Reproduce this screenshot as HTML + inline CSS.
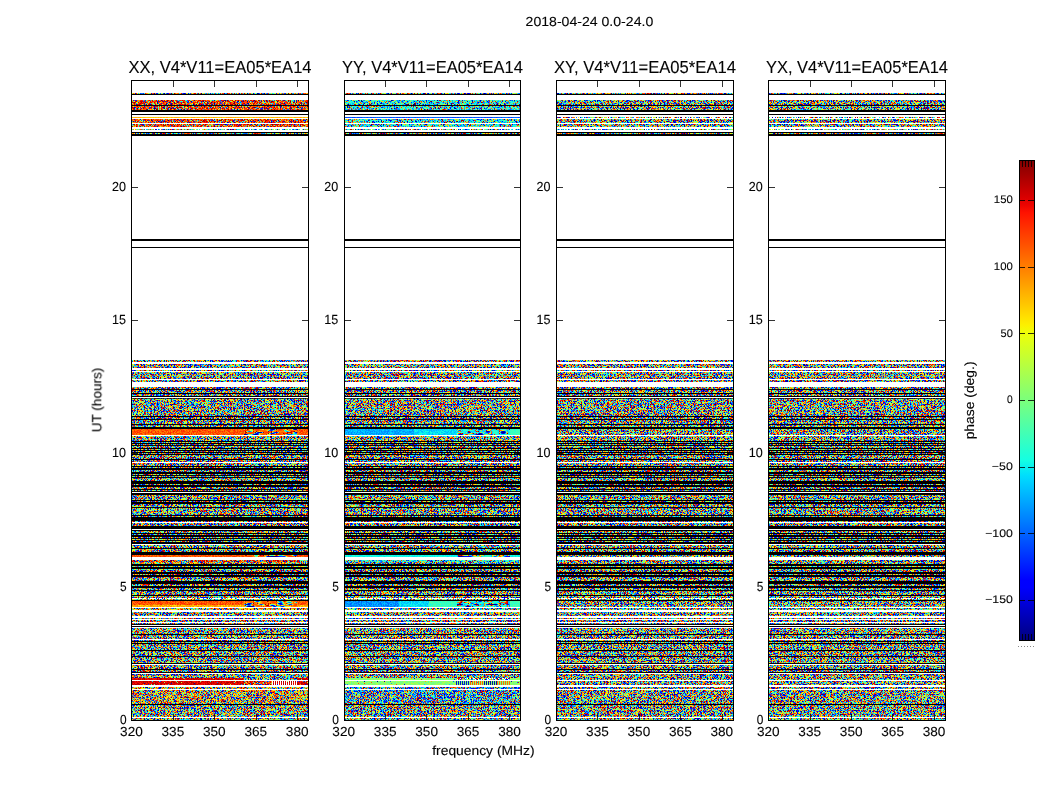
<!DOCTYPE html>
<html><head><meta charset="utf-8"><title>phase</title><style>html,body{margin:0;padding:0;background:#fff}svg{display:block}</style></head><body>
<svg width="1050" height="800" viewBox="0 0 1050 800" shape-rendering="crispEdges" font-family="Liberation Sans, sans-serif" fill="#000">
<defs><filter id="fu" x="0" y="0" width="100%" height="100%" color-interpolation-filters="sRGB">
<feTurbulence type="fractalNoise" baseFrequency="1.7" numOctaves="1" seed="3"/>
<feColorMatrix type="matrix" values="1 0 0 0 0  1 0 0 0 0  1 0 0 0 0  0 0 0 0 1"/>
<feComponentTransfer><feFuncR type="table" tableValues="0 0 0 0 0 0 0 0 0 0 0 0 0 0 0 0 0 0 0 0 0 0 0 0 0 0 0 0 0 0 0 0 0 0 0 0 0 0 0 0 0 0 0 0 0 0 0 0 0 0 0 0 0 0 0 0 0 0 0 0 0 0 0 0 0 0 0 0 0 0 0 0 0 0 0 0 0 0 0 0 0 0 0 0 0 0 0 0 0 0 0 0 0 0 0 0 0 0 0 0 0 0 0 0 0 0 0 0 0 0 0 0 0 0 0 0 0 0 0.0454 0.0916 0.138 0.184 0.229 0.275 0.321 0.365 0.41 0.445 0.504 0.573 0.617 0.66 0.705 0.751 0.796 0.841 0.887 0.933 0.98 1 1 1 1 1 1 1 1 1 1 1 1 1 1 1 1 1 1 1 1 1 1 1 1 0.979 0.952 0.925 0.899 0.874 0.851 0.826 0.804 0.783 0.76 0.739 0.718 0.699 0.681 0.664 0.647 0.631 0.617 0.604 0.592 0.581 0.57 0.56 0.551 0.544 0.537 0.531 0.526 0.523 0.519 0.517 0.514 0.512 0.51 0.509 0.507 0.506 0.505 0.504 0.504 0.503 0.502 0.502 0.502 0.501 0.501 0.501 0.501 0.5 0.5 0.5 0.5 0.5 0.5 0.5 0.5 0.5 0.5 0.5 0.5 0.5 0.5 0.5 0.5 0.5 0.5 0.5 0.5 0.5 0.5 0.5 0.5 0.5 0.5 0.5 0.5 0.5 0.5 0.5 0.5 0.5 0.5 0.5 0.5 0.5 0.5 0.5 0.5 0.5 0.5 0.5 0.5 0.5"/><feFuncG type="table" tableValues="0 0 0 0 0 0 0 0 0 0 0 0 0 0 0 0 0 0 0 0 0 0 0 0 0 0 0 0 0 0 0 0 0 0 0 0 0 0 0 0 0 0 0 0 0 0 0 0 0 0 0 0 0 0 0 0 0 0 0 0 0 0 0 0 0 0 0 0 0 0 0 0 0 0 0 0 0 0 0 0 0 0 0 0 0 0 0 0 0 0 0 0 0 0 0 0 0.0235 0.0541 0.0848 0.117 0.15 0.184 0.218 0.253 0.288 0.323 0.361 0.401 0.44 0.481 0.527 0.575 0.625 0.674 0.727 0.784 0.841 0.899 0.956 1 1 1 1 1 1 1 1 1 1 1 1 1 1 1 1 1 1 1 0.949 0.895 0.842 0.79 0.738 0.69 0.646 0.603 0.563 0.527 0.491 0.455 0.422 0.39 0.36 0.329 0.299 0.271 0.242 0.214 0.186 0.158 0.131 0.105 0.0802 0.057 0.0349 0.0131 0 0 0 0 0 0 0 0 0 0 0 0 0 0 0 0 0 0 0 0 0 0 0 0 0 0 0 0 0 0 0 0 0 0 0 0 0 0 0 0 0 0 0 0 0 0 0 0 0 0 0 0 0 0 0 0 0 0 0 0 0 0 0 0 0 0 0 0 0 0 0 0 0 0 0 0 0 0 0 0 0 0 0 0 0 0 0 0 0 0"/><feFuncB type="table" tableValues="0.5 0.5 0.5 0.5 0.5 0.5 0.5 0.5 0.5 0.5 0.5 0.5 0.5 0.5 0.5 0.5 0.5 0.5 0.5 0.5 0.5 0.5 0.5 0.5 0.5 0.5 0.5 0.5 0.5 0.5 0.5 0.5 0.5 0.5 0.5 0.5 0.5 0.5 0.5 0.5 0.5 0.5 0.5 0.5 0.5 0.5 0.5 0.501 0.501 0.501 0.501 0.502 0.502 0.503 0.503 0.504 0.505 0.506 0.507 0.508 0.51 0.512 0.514 0.516 0.519 0.523 0.527 0.532 0.538 0.545 0.553 0.561 0.571 0.582 0.593 0.605 0.619 0.634 0.649 0.666 0.683 0.703 0.723 0.744 0.766 0.789 0.812 0.838 0.864 0.89 0.917 0.944 0.971 0.999 1 1 1 1 1 1 1 1 1 1 1 1 1 1 1 1 1 1 1 1 1 1 1 0.969 0.922 0.876 0.83 0.784 0.739 0.692 0.647 0.602 0.557 0.523 0.464 0.395 0.351 0.308 0.262 0.217 0.172 0.127 0.0807 0.0348 0 0 0 0 0 0 0 0 0 0 0 0 0 0 0 0 0 0 0 0 0 0 0 0 0 0 0 0 0 0 0 0 0 0 0 0 0 0 0 0 0 0 0 0 0 0 0 0 0 0 0 0 0 0 0 0 0 0 0 0 0 0 0 0 0 0 0 0 0 0 0 0 0 0 0 0 0 0 0 0 0 0 0 0 0 0 0 0 0 0 0 0 0 0 0 0 0 0 0 0 0 0 0 0 0 0 0 0 0 0 0 0 0 0 0 0 0 0"/></feComponentTransfer>
</filter>
<filter id="fS" x="0" y="0" width="100%" height="100%" color-interpolation-filters="sRGB">
<feTurbulence type="fractalNoise" baseFrequency="1.7" numOctaves="1" seed="11"/>
<feColorMatrix type="matrix" values="1 0 0 0 0  1 0 0 0 0  1 0 0 0 0  0 0 0 0 1"/>
<feComponentTransfer><feFuncR type="discrete" tableValues="1 1 1 1 1 1 1 1 1 1 1 1 1 1 1 1 1 1 1 1 1 1 1 1 1 1 1 1 1 1 1 1 1 1 1 1 1 1 1 1 1 1 1 1 1 1 1 1 1 1 1 1 1 1 1 1 1 1 1 1 1 1 1 1 1 1 1 1 1 1 1 1 1 1 1 1 1 1 1 1 1 1 1 1 1 1 1 1 1 1 1 1 1 1 1 1 1 1 1 1 1 1 1 1 1 1 1 0 0 0 0 0 0 0 0 0 0 0 0 0 0 0 0 0 0 0 0 0 0.0545 0.143 0.199 0.255 0.313 0.372 0.429 0.487 0.546 0.605 0.665 0.725 0.784 0.842 0.9 0.954 1 1 1 1 1 1 1 1 1 1 1 1 1 1 1 1 1 1 1 1 1 1 1 0.98 0.95 0.918 0.89 0.862 0.833 0.806 0.78 0.755 0.732 0.71 0.689 0.668 0.65 0.634 0.618 0.603 0.59 0.577 0.565 0.556 0.548 0.54 0.534 0.529 0.525 0.521 0.518 0.515 0.513 0.511 0.509 0.508 0.507 0.506 0.504 0.504 0.503 0.502 0.502 0.502 0.501 0.501 0.501 0.5 0.5 0.5 0.5 0.5 0.5 0.5 0.5 0.5 0.5 0.5 0.5 0.5 0.5 0.5 0.5 0.5 0.5 0.5 0.5 0.5 0.5 0.5 0.5 0.5 0.5 0.5 0.5 0.5 0.5 0.5 0.5 0.5 0.5 0.5 0.5 0.5 0.5 0.5 0.5 0.5 0.5 0.5 0.5 0.5"/><feFuncG type="discrete" tableValues="1 1 1 1 1 1 1 1 1 1 1 1 1 1 1 1 1 1 1 1 1 1 1 1 1 1 1 1 1 1 1 1 1 1 1 1 1 1 1 1 1 1 1 1 1 1 1 1 1 1 1 1 1 1 1 1 1 1 1 1 1 1 1 1 1 1 1 1 1 1 1 1 1 1 1 1 1 1 1 1 1 1 1 1 1 1 1 1 1 1 1 1 1 1 1 1 1 1 1 1 1 1 1 1 1 1 1 0 0 0 0 0 0 0 0 0.0175 0.0913 0.165 0.239 0.312 0.386 0.459 0.531 0.605 0.677 0.747 0.819 0.874 0.968 1 1 1 1 1 1 1 1 1 1 1 1 1 1 0.979 0.922 0.867 0.816 0.769 0.723 0.678 0.635 0.594 0.555 0.516 0.478 0.441 0.404 0.368 0.333 0.297 0.263 0.229 0.197 0.167 0.139 0.111 0.0837 0.0577 0.033 0.00761 0 0 0 0 0 0 0 0 0 0 0 0 0 0 0 0 0 0 0 0 0 0 0 0 0 0 0 0 0 0 0 0 0 0 0 0 0 0 0 0 0 0 0 0 0 0 0 0 0 0 0 0 0 0 0 0 0 0 0 0 0 0 0 0 0 0 0 0 0 0 0 0 0 0 0 0 0 0 0 0 0 0 0 0 0 0"/><feFuncB type="discrete" tableValues="1 1 1 1 1 1 1 1 1 1 1 1 1 1 1 1 1 1 1 1 1 1 1 1 1 1 1 1 1 1 1 1 1 1 1 1 1 1 1 1 1 1 1 1 1 1 1 1 1 1 1 1 1 1 1 1 1 1 1 1 1 1 1 1 1 1 1 1 1 1 1 1 1 1 1 1 1 1 1 1 1 1 1 1 1 1 1 1 1 1 1 1 1 1 1 1 1 1 1 1 1 1 1 1 1 1 1 0.53 0.588 0.647 0.714 0.785 0.856 0.928 1 1 1 1 1 1 1 1 1 1 1 1 1 0.988 0.913 0.824 0.769 0.713 0.655 0.596 0.539 0.481 0.422 0.363 0.303 0.242 0.184 0.125 0.0674 0.014 0 0 0 0 0 0 0 0 0 0 0 0 0 0 0 0 0 0 0 0 0 0 0 0 0 0 0 0 0 0 0 0 0 0 0 0 0 0 0 0 0 0 0 0 0 0 0 0 0 0 0 0 0 0 0 0 0 0 0 0 0 0 0 0 0 0 0 0 0 0 0 0 0 0 0 0 0 0 0 0 0 0 0 0 0 0 0 0 0 0 0 0 0 0 0 0 0 0 0 0 0 0 0 0 0 0 0 0 0 0 0 0"/></feComponentTransfer>
</filter>
<filter id="fS2" x="0" y="0" width="100%" height="100%" color-interpolation-filters="sRGB">
<feTurbulence type="fractalNoise" baseFrequency="1.7" numOctaves="1" seed="17"/>
<feColorMatrix type="matrix" values="1 0 0 0 0  1 0 0 0 0  1 0 0 0 0  0 0 0 0 1"/>
<feComponentTransfer><feFuncR type="discrete" tableValues="1 1 1 1 1 1 1 1 1 1 1 1 1 1 1 1 1 1 1 1 1 1 1 1 1 1 1 1 1 1 1 1 1 1 1 1 1 1 1 1 1 1 1 1 1 1 1 1 1 1 1 1 1 1 1 1 1 1 1 1 1 1 1 1 1 1 1 1 1 1 1 1 1 1 1 1 1 1 1 1 1 1 1 1 1 1 1 1 1 1 1 1 1 1 1 1 1 1 1 1 1 1 1 1 1 1 1 1 1 1 1 1 1 1 1 1 1 1 1 1 1 1 1 1 1 1 1 1 1 1 1 1 1 1 1 1 1 1 1 1 1 1 1 1 1 1 1 1 1 0 0 0 0 0 0 0 0 0 0.0403 0.15 0.257 0.36 0.459 0.552 0.639 0.725 0.809 0.889 0.966 1 1 1 1 1 1 1 1 1 1 1 1 0.974 0.917 0.866 0.819 0.773 0.732 0.698 0.669 0.642 0.62 0.603 0.588 0.575 0.564 0.555 0.546 0.54 0.533 0.528 0.524 0.52 0.516 0.513 0.511 0.509 0.507 0.506 0.504 0.503 0.503 0.502 0.501 0.501 0.5 0.5 0.5 0.5 0.5 0.5 0.5 0.5 0.5 0.5 0.5 0.5 0.5 0.5 0.5 0.5 0.5 0.5 0.5 0.5 0.5 0.5 0.5 0.5 0.5 0.5 0.5 0.5 0.5 0.5 0.5 0.5 0.5 0.5 0.5 0.5 0.5 0.5 0.5 0.5 0.5 0.5"/><feFuncG type="discrete" tableValues="1 1 1 1 1 1 1 1 1 1 1 1 1 1 1 1 1 1 1 1 1 1 1 1 1 1 1 1 1 1 1 1 1 1 1 1 1 1 1 1 1 1 1 1 1 1 1 1 1 1 1 1 1 1 1 1 1 1 1 1 1 1 1 1 1 1 1 1 1 1 1 1 1 1 1 1 1 1 1 1 1 1 1 1 1 1 1 1 1 1 1 1 1 1 1 1 1 1 1 1 1 1 1 1 1 1 1 1 1 1 1 1 1 1 1 1 1 1 1 1 1 1 1 1 1 1 1 1 1 1 1 1 1 1 1 1 1 1 1 1 1 1 1 1 1 1 1 1 1 0 0 0 0.0982 0.249 0.395 0.534 0.677 0.814 0.95 1 1 1 1 1 1 1 1 1 0.965 0.875 0.794 0.713 0.628 0.551 0.475 0.403 0.336 0.272 0.212 0.153 0.101 0.0527 0.00676 0 0 0 0 0 0 0 0 0 0 0 0 0 0 0 0 0 0 0 0 0 0 0 0 0 0 0 0 0 0 0 0 0 0 0 0 0 0 0 0 0 0 0 0 0 0 0 0 0 0 0 0 0 0 0 0 0 0 0 0 0 0 0 0 0 0 0 0 0 0 0 0 0"/><feFuncB type="discrete" tableValues="1 1 1 1 1 1 1 1 1 1 1 1 1 1 1 1 1 1 1 1 1 1 1 1 1 1 1 1 1 1 1 1 1 1 1 1 1 1 1 1 1 1 1 1 1 1 1 1 1 1 1 1 1 1 1 1 1 1 1 1 1 1 1 1 1 1 1 1 1 1 1 1 1 1 1 1 1 1 1 1 1 1 1 1 1 1 1 1 1 1 1 1 1 1 1 1 1 1 1 1 1 1 1 1 1 1 1 1 1 1 1 1 1 1 1 1 1 1 1 1 1 1 1 1 1 1 1 1 1 1 1 1 1 1 1 1 1 1 1 1 1 1 1 1 1 1 1 1 1 0.647 0.834 1 1 1 1 1 1 1 0.927 0.818 0.711 0.607 0.508 0.416 0.329 0.243 0.159 0.0786 0.00209 0 0 0 0 0 0 0 0 0 0 0 0 0 0 0 0 0 0 0 0 0 0 0 0 0 0 0 0 0 0 0 0 0 0 0 0 0 0 0 0 0 0 0 0 0 0 0 0 0 0 0 0 0 0 0 0 0 0 0 0 0 0 0 0 0 0 0 0 0 0 0 0 0 0 0 0 0 0 0 0 0 0 0 0 0 0 0"/></feComponentTransfer>
</filter>
<filter id="f1T" x="0" y="0" width="100%" height="100%" color-interpolation-filters="sRGB">
<feTurbulence type="fractalNoise" baseFrequency="1.7" numOctaves="1" seed="3"/>
<feColorMatrix type="matrix" values="1 0 0 0 0  1 0 0 0 0  1 0 0 0 0  0 0 0 0 1"/>
<feComponentTransfer><feFuncR type="table" tableValues="0 0 0 0 0 0 0 0 0 0 0 0 0 0 0 0 0 0 0 0 0 0 0 0 0 0 0 0 0 0 0 0 0 0 0 0 0 0 0 0 0 0 0 0 0 0 0 0 0 0 0 0 0 0 0 0 0 0 0 0 0 0 0 0 0 0 0 0 0 0 0 0 0 0 0 0 0 0 0 0 0 0 0 0 0 0 0 0 0 0 0 0 0 0 0 0 0 0 0 0 0.0358 0.0961 0.158 0.221 0.282 0.346 0.414 0.485 0.556 0.629 0.711 0.798 0.886 0.975 1 1 1 1 1 1 1 0.935 0.793 0.648 0.505 1 1 1 1 1 1 1 1 1 1 1 1 1 1 1 1 1 1 1 1 1 1 1 1 1 1 0.991 0.977 0.962 0.947 0.933 0.919 0.905 0.891 0.878 0.865 0.852 0.839 0.828 0.817 0.806 0.796 0.786 0.777 0.767 0.758 0.749 0.74 0.732 0.724 0.716 0.709 0.702 0.695 0.689 0.683 0.678 0.673 0.669 0.664 0.66 0.657 0.654 0.651 0.649 0.647 0.645 0.644 0.643 0.642 0.641 0.64 0.64 0.639 0.639 0.638 0.638 0.638 0.638 0.637 0.637 0.637 0.637 0.637 0.637 0.637 0.637 0.636 0.636 0.636 0.636 0.636 0.636 0.636 0.636 0.636 0.636 0.636 0.636 0.636 0.636 0.636 0.636 0.636 0.636 0.636 0.636 0.636 0.636 0.636 0.636 0.636 0.636 0.636 0.636 0.636 0.636 0.636 0.636 0.636 0.636 0.636 0.636 0.636 0.636 0.636 0.636 0.636 0.636 0.636 0.636"/><feFuncG type="table" tableValues="0 0 0 0 0 0 0 0 0 0 0 0 0 0 0 0 0 0 0 0 0 0 0 0 0 0 0 0 0 0 0 0 0 0 0 0 0 0 0 0 0 0 0 0 0 0 0 0 0 0 0 0 0 0 0 0 0 0 0 0 0 0 0 0 0 0 0 0 0 0 0 0 0 0 0 0 0 0 0 0 0 0 0 0 0.0211 0.0653 0.111 0.161 0.212 0.263 0.316 0.368 0.421 0.476 0.534 0.596 0.663 0.731 0.8 0.871 0.944 1 1 1 1 1 1 1 1 1 1 1 1 0.955 0.846 0.729 0.611 0.492 0.374 0.256 0.138 0.0211 0 0 0 0.573 0.552 0.536 0.509 0.478 0.458 0.438 0.417 0.396 0.375 0.354 0.333 0.312 0.291 0.269 0.248 0.227 0.206 0.187 0.169 0.152 0.136 0.122 0.107 0.0932 0.0798 0.0671 0.055 0.0427 0.0308 0.0195 0.00784 0 0 0 0 0 0 0 0 0 0 0 0 0 0 0 0 0 0 0 0 0 0 0 0 0 0 0 0 0 0 0 0 0 0 0 0 0 0 0 0 0 0 0 0 0 0 0 0 0 0 0 0 0 0 0 0 0 0 0 0 0 0 0 0 0 0 0 0 0 0 0 0 0 0 0 0 0 0 0 0 0 0 0 0 0 0 0 0 0 0 0 0 0 0 0 0 0 0 0"/><feFuncB type="table" tableValues="0.5 0.5 0.5 0.5 0.5 0.5 0.5 0.5 0.5 0.5 0.5 0.5 0.5 0.5 0.5 0.5 0.5 0.5 0.5 0.5 0.5 0.5 0.5 0.5 0.5 0.5 0.5 0.5 0.5 0.5 0.5 0.5 0.5 0.5 0.5 0.5 0.5 0.5 0.5 0.5 0.5 0.5 0.5 0.5 0.5 0.501 0.501 0.501 0.502 0.502 0.503 0.504 0.505 0.506 0.507 0.508 0.51 0.512 0.515 0.518 0.522 0.526 0.531 0.536 0.543 0.55 0.56 0.571 0.585 0.6 0.617 0.637 0.658 0.682 0.707 0.733 0.764 0.797 0.832 0.869 0.907 0.95 0.996 1 1 1 1 1 1 1 1 1 1 1 1 1 1 1 1 0.991 0.932 0.872 0.809 0.747 0.685 0.622 0.554 0.483 0.412 0.339 0.257 0.169 0.0815 0 0 0 0 0 0 0 0 0 0 0 0 0 0 0 0 0 0 0 0 0 0 0 0 0 0 0 0 0 0 0 0 0 0 0 0 0 0 0 0 0 0 0 0 0 0 0 0 0 0 0 0 0 0 0 0 0 0 0 0 0 0 0 0 0 0 0 0 0 0 0 0 0 0 0 0 0 0 0 0 0 0 0 0 0 0 0 0 0 0 0 0 0 0 0 0 0 0 0 0 0 0 0 0 0 0 0 0 0 0 0 0 0 0 0 0 0 0 0 0 0 0 0 0 0 0 0 0 0 0 0 0 0 0 0 0 0 0 0 0 0 0 0"/></feComponentTransfer>
</filter>
<filter id="f1t" x="0" y="0" width="100%" height="100%" color-interpolation-filters="sRGB">
<feTurbulence type="fractalNoise" baseFrequency="1.7" numOctaves="1" seed="3"/>
<feColorMatrix type="matrix" values="1 0 0 0 0  1 0 0 0 0  1 0 0 0 0  0 0 0 0 1"/>
<feComponentTransfer><feFuncR type="table" tableValues="0 0 0 0 0 0 0 0 0 0 0 0 0 0 0 0 0 0 0 0 0 0 0 0 0 0 0 0 0 0 0 0 0 0 0 0 0 0 0 0 0 0 0 0 0 0 0 0 0 0 0 0 0 0 0 0 0 0 0 0 0 0 0 0 0 0 0 0 0 0 0 0 0 0 0 0 0 0 0 0 0 0 0 0 0 0 0 0 0 0 0 0 0 0 0 0 0 0 0 0 0 0 0 0 0 0 0 0 0 0 0 0.0274 0.0801 0.133 0.19 0.251 0.313 0.375 0.437 0.498 0.56 0.621 0.682 0.744 0.804 0.863 0.923 0.97 1 1 1 1 1 1 1 1 1 1 1 0.995 0.909 0.823 0.738 0.66 0.587 0.516 0.837 0.875 0.913 0.95 0.985 1 1 1 1 1 1 1 1 1 1 1 1 1 1 1 1 1 1 1 1 1 1 1 1 1 1 1 1 1 1 1 1 1 1 1 1 1 0.999 0.992 0.986 0.982 0.978 0.974 0.972 0.969 0.967 0.965 0.963 0.962 0.961 0.96 0.959 0.958 0.957 0.957 0.956 0.956 0.956 0.955 0.955 0.955 0.955 0.955 0.955 0.955 0.955 0.955 0.955 0.955 0.955 0.955 0.955 0.955 0.955 0.955 0.955 0.955 0.955 0.955 0.955 0.955 0.955 0.955 0.955 0.955 0.955 0.955 0.955 0.955 0.955 0.955 0.955 0.955 0.955 0.955 0.955 0.955 0.955 0.955 0.955 0.955 0.955 0.955 0.955 0.955"/><feFuncG type="table" tableValues="0 0 0 0 0 0 0 0 0 0 0 0 0 0 0 0 0 0 0 0 0 0 0 0 0 0 0 0 0 0 0 0 0 0 0 0 0 0 0 0 0 0 0 0 0 0 0 0 0 0 0 0 0 0 0 0 0 0 0 0 0 0 0 0 0 0 0 0 0 0 0 0 0 0 0 0 0 0 0 0 0 0 0 0 0 0 0 0 0 0 0 0.021 0.0528 0.0858 0.12 0.158 0.198 0.239 0.28 0.322 0.367 0.411 0.458 0.505 0.55 0.597 0.648 0.701 0.754 0.808 0.869 0.934 0.999 1 1 1 1 1 1 1 1 1 1 1 1 1 1 0.961 0.871 0.765 0.698 0.632 0.562 0.492 0.424 0.354 0.284 0.214 0.142 0.0697 0 0 0 0 0 0 1 1 1 0.983 0.943 0.905 0.869 0.832 0.796 0.762 0.727 0.694 0.66 0.627 0.595 0.563 0.533 0.505 0.479 0.453 0.427 0.403 0.38 0.356 0.335 0.313 0.291 0.27 0.25 0.231 0.214 0.197 0.181 0.166 0.152 0.139 0.127 0.116 0.106 0.0957 0.0869 0.0797 0.0734 0.0677 0.0629 0.0591 0.056 0.0533 0.0509 0.0488 0.047 0.0455 0.0442 0.0431 0.0421 0.0412 0.0405 0.0399 0.0394 0.0389 0.0386 0.0383 0.038 0.0377 0.0376 0.0374 0.0373 0.0372 0.0371 0.0371 0.037 0.037 0.037 0.037 0.037 0.037 0.037 0.037 0.037 0.037 0.037 0.037 0.037 0.037 0.037 0.037 0.037 0.037 0.037 0.037 0.037 0.037 0.037 0.037 0.037 0.037 0.037 0.037 0.037 0.037 0.037 0.037 0.037 0.037 0.037 0.037 0.037 0.037 0.037 0.037"/><feFuncB type="table" tableValues="0.5 0.5 0.5 0.5 0.5 0.5 0.5 0.5 0.5 0.5 0.5 0.5 0.5 0.5 0.5 0.5 0.5 0.5 0.5 0.5 0.5 0.5 0.5 0.5 0.5 0.5 0.5 0.5 0.5 0.5 0.5 0.5 0.5 0.5 0.5 0.5 0.5 0.5 0.5 0.5 0.5 0.5 0.5 0.5 0.5 0.5 0.5 0.501 0.501 0.501 0.502 0.502 0.503 0.503 0.504 0.505 0.506 0.507 0.509 0.511 0.513 0.516 0.518 0.522 0.526 0.53 0.536 0.543 0.551 0.56 0.57 0.582 0.595 0.609 0.624 0.64 0.658 0.678 0.699 0.722 0.744 0.77 0.798 0.825 0.855 0.885 0.916 0.951 0.986 1 1 1 1 1 1 1 1 1 1 1 1 1 1 1 1 1 1 1 1 1 0.993 0.94 0.888 0.834 0.778 0.716 0.655 0.592 0.531 0.469 0.408 0.347 0.286 0.224 0.163 0.104 0.0444 0 0 0 0 0 0 0 0 0 0 0 0 0 0 0 0 0 0 0 0.13 0.0923 0.055 0.0176 0 0 0 0 0 0 0 0 0 0 0 0 0 0 0 0 0 0 0 0 0 0 0 0 0 0 0 0 0 0 0 0 0 0 0 0 0 0 0 0 0 0 0 0 0 0 0 0 0 0 0 0 0 0 0 0 0 0 0 0 0 0 0 0 0 0 0 0 0 0 0 0 0 0 0 0 0 0 0 0 0 0 0 0 0 0 0 0 0 0 0 0 0 0 0 0 0 0 0 0 0 0 0 0 0 0"/></feComponentTransfer>
</filter>
<filter id="f1O" x="0" y="0" width="100%" height="100%" color-interpolation-filters="sRGB">
<feTurbulence type="fractalNoise" baseFrequency="1.7" numOctaves="1" seed="3"/>
<feColorMatrix type="matrix" values="1 0 0 0 0  1 0 0 0 0  1 0 0 0 0  0 0 0 0 1"/>
<feComponentTransfer><feFuncR type="table" tableValues="1 1 1 1 1 1 1 1 1 1 1 1 1 1 1 1 1 1 1 1 1 1 1 1 1 1 1 1 1 1 1 1 1 1 1 1 1 1 1 1 1 1 1 1 1 1 1 1 1 1 1 1 1 1 1 1 1 1 1 1 1 1 1 1 1 1 1 1 1 1 1 1 1 1 1 1 1 1 1 1 1 1 1 1 1 1 1 1 1 1 1 1 1 1 1 1 1 1 1 1 1 1 1 1 1 1 1 1 1 1 1 1 1 1 1 1 1 1 1 1 1 1 1 1 1 1 1 1 1 1 1 1 1 1 1 1 1 1 1 1 1 1 1 1 1 1 1 1 1 1 1 1 1 1 1 1 1 1 1 1 1 1 1 1 1 1 1 1 1 1 1 1 1 1 1 1 1 1 1 1 1 1 1 1 1 1 1 1 1 1 1 1 1 1 1 1 1 1 1 1 1 1 1 1 1 1 1 1 1 1 1 1 1 1 1 1 1 1 1 1 1 1 1 1 1 1 1 1 1 1 1 1 1 1 1 1 1 1 1 1 1 1 1 1 1 1 1 1 1 1 1 1 1 1 1 1"/><feFuncG type="table" tableValues="0.556 0.556 0.556 0.556 0.556 0.556 0.556 0.556 0.556 0.556 0.556 0.556 0.556 0.556 0.556 0.556 0.556 0.556 0.556 0.556 0.556 0.556 0.556 0.556 0.556 0.556 0.556 0.556 0.556 0.556 0.556 0.556 0.556 0.556 0.556 0.556 0.556 0.556 0.556 0.556 0.556 0.556 0.556 0.556 0.556 0.556 0.556 0.556 0.555 0.555 0.555 0.555 0.555 0.555 0.555 0.555 0.555 0.555 0.555 0.555 0.555 0.554 0.554 0.554 0.554 0.553 0.553 0.552 0.552 0.551 0.55 0.55 0.549 0.548 0.546 0.545 0.544 0.542 0.541 0.539 0.538 0.536 0.534 0.532 0.529 0.527 0.525 0.522 0.52 0.517 0.515 0.512 0.509 0.507 0.504 0.501 0.497 0.494 0.491 0.487 0.483 0.48 0.476 0.472 0.468 0.464 0.46 0.455 0.451 0.447 0.441 0.436 0.431 0.425 0.419 0.413 0.407 0.4 0.394 0.387 0.381 0.375 0.368 0.362 0.356 0.35 0.343 0.339 0.331 0.321 0.315 0.309 0.303 0.297 0.29 0.284 0.278 0.271 0.265 0.258 0.252 0.246 0.24 0.234 0.229 0.223 0.219 0.214 0.21 0.206 0.202 0.198 0.194 0.191 0.187 0.184 0.18 0.177 0.173 0.17 0.167 0.164 0.161 0.158 0.155 0.153 0.15 0.148 0.145 0.143 0.141 0.139 0.136 0.134 0.132 0.131 0.129 0.127 0.126 0.124 0.123 0.121 0.12 0.119 0.118 0.117 0.116 0.115 0.115 0.114 0.114 0.113 0.113 0.113 0.112 0.112 0.112 0.112 0.112 0.112 0.112 0.112 0.111 0.111 0.111 0.111 0.111 0.111 0.111 0.111 0.111 0.111 0.111 0.111 0.111 0.111 0.111 0.111 0.111 0.111 0.111 0.111 0.111 0.111 0.111 0.111 0.111 0.111 0.111 0.111 0.111 0.111 0.111 0.111 0.111 0.111 0.111 0.111 0.111 0.111 0.111 0.111 0.111 0.111 0.111 0.111 0.111 0.111 0.111 0.111 0.111 0.111 0.111 0.111 0.111 0.111"/><feFuncB type="table" tableValues="0 0 0 0 0 0 0 0 0 0 0 0 0 0 0 0 0 0 0 0 0 0 0 0 0 0 0 0 0 0 0 0 0 0 0 0 0 0 0 0 0 0 0 0 0 0 0 0 0 0 0 0 0 0 0 0 0 0 0 0 0 0 0 0 0 0 0 0 0 0 0 0 0 0 0 0 0 0 0 0 0 0 0 0 0 0 0 0 0 0 0 0 0 0 0 0 0 0 0 0 0 0 0 0 0 0 0 0 0 0 0 0 0 0 0 0 0 0 0 0 0 0 0 0 0 0 0 0 0 0 0 0 0 0 0 0 0 0 0 0 0 0 0 0 0 0 0 0 0 0 0 0 0 0 0 0 0 0 0 0 0 0 0 0 0 0 0 0 0 0 0 0 0 0 0 0 0 0 0 0 0 0 0 0 0 0 0 0 0 0 0 0 0 0 0 0 0 0 0 0 0 0 0 0 0 0 0 0 0 0 0 0 0 0 0 0 0 0 0 0 0 0 0 0 0 0 0 0 0 0 0 0 0 0 0 0 0 0 0 0 0 0 0 0 0 0 0 0 0 0 0 0 0 0 0 0"/></feComponentTransfer>
</filter>
<filter id="f1O2" x="0" y="0" width="100%" height="100%" color-interpolation-filters="sRGB">
<feTurbulence type="fractalNoise" baseFrequency="1.7" numOctaves="1" seed="3"/>
<feColorMatrix type="matrix" values="1 0 0 0 0  1 0 0 0 0  1 0 0 0 0  0 0 0 0 1"/>
<feComponentTransfer><feFuncR type="table" tableValues="1 1 1 1 1 1 1 1 1 1 1 1 1 1 1 1 1 1 1 1 1 1 1 1 1 1 1 1 1 1 1 1 1 1 1 1 1 1 1 1 1 1 1 1 1 1 1 1 1 1 1 1 1 1 1 1 1 1 1 1 1 1 1 1 1 1 1 1 1 1 1 1 1 1 1 1 1 1 1 1 1 1 1 1 1 1 1 1 1 1 1 1 1 1 1 1 1 1 1 1 1 1 1 1 1 1 1 1 1 1 1 1 1 1 1 1 1 1 1 1 1 1 1 1 1 1 1 1 1 1 1 1 1 1 1 1 1 1 1 1 1 1 1 1 1 1 1 1 1 1 1 1 1 1 1 1 1 1 1 1 1 1 1 1 1 1 1 1 1 1 1 1 1 1 1 1 1 1 1 1 1 1 1 1 1 1 1 1 1 1 1 1 1 1 1 1 1 1 1 1 1 1 1 1 1 1 1 1 1 1 1 1 1 1 1 1 1 1 1 1 1 1 1 1 1 1 1 1 1 1 1 1 1 1 1 1 1 1 1 1 1 1 1 1 1 1 1 1 1 1 1 1 1 1 1 1"/><feFuncG type="table" tableValues="0.926 0.926 0.926 0.926 0.926 0.926 0.926 0.926 0.926 0.926 0.926 0.926 0.926 0.926 0.926 0.926 0.926 0.926 0.926 0.926 0.926 0.926 0.926 0.926 0.926 0.926 0.926 0.926 0.926 0.926 0.926 0.926 0.926 0.926 0.926 0.926 0.926 0.926 0.926 0.926 0.926 0.926 0.926 0.926 0.926 0.926 0.926 0.926 0.926 0.926 0.926 0.926 0.926 0.926 0.926 0.926 0.925 0.925 0.925 0.925 0.925 0.925 0.925 0.924 0.924 0.924 0.923 0.923 0.922 0.922 0.921 0.92 0.919 0.918 0.917 0.916 0.914 0.913 0.911 0.91 0.908 0.906 0.904 0.902 0.9 0.898 0.895 0.893 0.89 0.888 0.885 0.883 0.88 0.877 0.874 0.871 0.868 0.864 0.861 0.857 0.854 0.85 0.846 0.842 0.838 0.834 0.83 0.826 0.821 0.817 0.812 0.806 0.801 0.795 0.79 0.783 0.777 0.77 0.764 0.758 0.751 0.745 0.739 0.732 0.726 0.72 0.714 0.709 0.701 0.691 0.685 0.679 0.673 0.667 0.661 0.654 0.648 0.642 0.635 0.629 0.623 0.616 0.61 0.604 0.599 0.594 0.589 0.585 0.58 0.576 0.572 0.568 0.565 0.561 0.557 0.554 0.551 0.547 0.544 0.54 0.537 0.534 0.531 0.528 0.526 0.523 0.521 0.518 0.516 0.513 0.511 0.509 0.507 0.505 0.503 0.501 0.499 0.497 0.496 0.494 0.493 0.492 0.49 0.489 0.488 0.487 0.486 0.486 0.485 0.485 0.484 0.484 0.483 0.483 0.483 0.483 0.482 0.482 0.482 0.482 0.482 0.482 0.482 0.482 0.482 0.482 0.482 0.482 0.482 0.482 0.482 0.482 0.482 0.481 0.481 0.481 0.481 0.481 0.481 0.481 0.481 0.481 0.481 0.481 0.481 0.481 0.481 0.481 0.481 0.481 0.481 0.481 0.481 0.481 0.481 0.481 0.481 0.481 0.481 0.481 0.481 0.481 0.481 0.481 0.481 0.481 0.481 0.481 0.481 0.481 0.481 0.481 0.481 0.481 0.481 0.481"/><feFuncB type="table" tableValues="0 0 0 0 0 0 0 0 0 0 0 0 0 0 0 0 0 0 0 0 0 0 0 0 0 0 0 0 0 0 0 0 0 0 0 0 0 0 0 0 0 0 0 0 0 0 0 0 0 0 0 0 0 0 0 0 0 0 0 0 0 0 0 0 0 0 0 0 0 0 0 0 0 0 0 0 0 0 0 0 0 0 0 0 0 0 0 0 0 0 0 0 0 0 0 0 0 0 0 0 0 0 0 0 0 0 0 0 0 0 0 0 0 0 0 0 0 0 0 0 0 0 0 0 0 0 0 0 0 0 0 0 0 0 0 0 0 0 0 0 0 0 0 0 0 0 0 0 0 0 0 0 0 0 0 0 0 0 0 0 0 0 0 0 0 0 0 0 0 0 0 0 0 0 0 0 0 0 0 0 0 0 0 0 0 0 0 0 0 0 0 0 0 0 0 0 0 0 0 0 0 0 0 0 0 0 0 0 0 0 0 0 0 0 0 0 0 0 0 0 0 0 0 0 0 0 0 0 0 0 0 0 0 0 0 0 0 0 0 0 0 0 0 0 0 0 0 0 0 0 0 0 0 0 0 0"/></feComponentTransfer>
</filter>
<filter id="f1D" x="0" y="0" width="100%" height="100%" color-interpolation-filters="sRGB">
<feTurbulence type="fractalNoise" baseFrequency="1.7" numOctaves="1" seed="3"/>
<feColorMatrix type="matrix" values="1 0 0 0 0  1 0 0 0 0  1 0 0 0 0  0 0 0 0 1"/>
<feComponentTransfer><feFuncR type="table" tableValues="0 0 0 0 0 0 0 0 0 0 0 0 0 0 0 0 0 0 0 0 0 0 0 0 0 0 0 0 0 0 0 0 0 0 0 0 0 0 0 0 0 0 0 0 0 0 0 0 0 0 0 0 0 0 0 0 0 0 0 0 0 0 0 0 0 0 0 0 0 0 0 0 0 0 0 0.113 0.277 0.45 0.639 0.836 1 1 1 0.982 0.604 1 1 1 1 1 1 1 1 1 1 1 1 1 1 1 1 0.997 0.993 0.99 0.986 0.982 0.978 0.974 0.969 0.965 0.96 0.955 0.949 0.944 0.938 0.932 0.926 0.919 0.913 0.907 0.901 0.894 0.888 0.882 0.876 0.87 0.864 0.859 0.851 0.842 0.836 0.83 0.824 0.818 0.812 0.806 0.8 0.793 0.787 0.781 0.775 0.768 0.762 0.757 0.751 0.746 0.742 0.737 0.733 0.729 0.725 0.721 0.718 0.714 0.711 0.707 0.704 0.701 0.697 0.694 0.691 0.688 0.685 0.682 0.68 0.677 0.675 0.672 0.67 0.668 0.666 0.663 0.661 0.659 0.657 0.655 0.654 0.652 0.65 0.649 0.648 0.646 0.645 0.644 0.643 0.642 0.641 0.641 0.64 0.639 0.639 0.639 0.638 0.638 0.638 0.638 0.637 0.637 0.637 0.637 0.637 0.637 0.637 0.637 0.637 0.637 0.637 0.636 0.636 0.636 0.636 0.636 0.636 0.636 0.636 0.636 0.636 0.636 0.636 0.636 0.636 0.636 0.636 0.636 0.636 0.636 0.636 0.636 0.636 0.636 0.636 0.636 0.636 0.636 0.636 0.636 0.636 0.636 0.636 0.636 0.636 0.636 0.636 0.636 0.636 0.636 0.636 0.636 0.636 0.636 0.636 0.636 0.636 0.636 0.636 0.636"/><feFuncG type="table" tableValues="0 0 0 0 0 0 0 0 0 0 0 0 0 0 0 0 0 0 0 0 0 0 0 0 0 0 0 0 0 0 0 0 0 0 0 0 0 0 0 0 0 0 0 0 0 0 0 0 0 0 0 0 0 0 0 0 0 0 0 0 0 0 0 0 0 0 0 0 0.0619 0.162 0.275 0.402 0.545 0.702 0.865 1 1 1 1 1 0.883 0.62 0.338 0.0593 0 0.11 0.108 0.106 0.104 0.102 0.0999 0.0977 0.0956 0.0934 0.0911 0.0887 0.086 0.0833 0.0805 0.0777 0.0748 0.0718 0.0687 0.0656 0.0626 0.0594 0.0561 0.0525 0.049 0.0454 0.0414 0.037 0.0327 0.0283 0.0236 0.0186 0.0135 0.00836 0.00328 0 0 0 0 0 0 0 0 0 0 0 0 0 0 0 0 0 0 0 0 0 0 0 0 0 0 0 0 0 0 0 0 0 0 0 0 0 0 0 0 0 0 0 0 0 0 0 0 0 0 0 0 0 0 0 0 0 0 0 0 0 0 0 0 0 0 0 0 0 0 0 0 0 0 0 0 0 0 0 0 0 0 0 0 0 0 0 0 0 0 0 0 0 0 0 0 0 0 0 0 0 0 0 0 0 0 0 0 0 0 0 0 0 0 0 0 0 0 0 0 0 0 0 0 0 0 0 0 0 0 0 0 0 0 0 0 0"/><feFuncB type="table" tableValues="0.5 0.5 0.5 0.5 0.5 0.5 0.5 0.5 0.5 0.5 0.5 0.5 0.5 0.5 0.5 0.5 0.5 0.5 0.5 0.5 0.5 0.5 0.5 0.5 0.5 0.5 0.5 0.5 0.5 0.5 0.5 0.5 0.5 0.5 0.5 0.5 0.5 0.5 0.5 0.5 0.5 0.501 0.501 0.502 0.504 0.505 0.506 0.509 0.512 0.517 0.521 0.528 0.535 0.543 0.552 0.563 0.576 0.592 0.611 0.634 0.662 0.695 0.73 0.77 0.82 0.878 0.947 1 1 1 1 1 1 1 0.996 0.855 0.691 0.517 0.329 0.131 0 0 0 0 0 0 0 0 0 0 0 0 0 0 0 0 0 0 0 0 0 0 0 0 0 0 0 0 0 0 0 0 0 0 0 0 0 0 0 0 0 0 0 0 0 0 0 0 0 0 0 0 0 0 0 0 0 0 0 0 0 0 0 0 0 0 0 0 0 0 0 0 0 0 0 0 0 0 0 0 0 0 0 0 0 0 0 0 0 0 0 0 0 0 0 0 0 0 0 0 0 0 0 0 0 0 0 0 0 0 0 0 0 0 0 0 0 0 0 0 0 0 0 0 0 0 0 0 0 0 0 0 0 0 0 0 0 0 0 0 0 0 0 0 0 0 0 0 0 0 0 0 0 0 0 0 0 0 0 0 0 0 0 0 0 0 0 0 0 0 0 0 0 0 0 0"/></feComponentTransfer>
</filter>
<filter id="f1L" x="0" y="0" width="100%" height="100%" color-interpolation-filters="sRGB">
<feTurbulence type="fractalNoise" baseFrequency="1.7" numOctaves="1" seed="3"/>
<feColorMatrix type="matrix" values="1 0 0 0 0  1 0 0 0 0  1 0 0 0 0  0 0 0 0 1"/>
<feComponentTransfer><feFuncR type="table" tableValues="1 1 1 1 1 1 1 1 1 1 1 1 1 1 1 1 1 1 1 1 1 1 1 1 1 1 1 1 1 1 1 1 1 1 1 1 1 1 1 1 1 1 1 1 1 1 1 1 1 1 1 1 1 1 1 1 1 1 1 1 1 1 1 1 1 1 1 1 1 1 1 1 1 1 1 1 1 1 1 1 1 1 1 1 1 1 1 1 1 1 1 1 1 1 1 1 1 1 1 1 1 1 1 1 1 1 1 1 1 1 1 1 1 1 1 1 1 1 1 1 1 1 1 1 1 1 1 1 1 1 1 1 1 1 1 1 1 1 1 1 1 1 1 1 1 1 1 1 1 1 1 1 1 1 1 1 1 1 1 1 1 1 1 1 1 1 1 1 1 1 1 1 1 1 1 1 1 1 1 1 1 1 1 1 1 1 1 1 1 1 1 1 1 1 1 1 1 1 1 1 1 1 1 1 1 1 1 1 1 1 1 1 1 1 1 1 1 1 1 1 1 1 1 1 1 1 1 1 1 1 1 1 1 1 1 1 1 1 1 1 1 1 1 1 1 1 1 1 1 1 1 1 1 1 1 1"/><feFuncG type="table" tableValues="0.852 0.852 0.852 0.852 0.852 0.852 0.852 0.852 0.852 0.852 0.852 0.852 0.852 0.852 0.852 0.852 0.852 0.852 0.852 0.852 0.852 0.852 0.852 0.852 0.852 0.852 0.852 0.852 0.852 0.852 0.852 0.852 0.852 0.852 0.852 0.852 0.852 0.852 0.852 0.852 0.852 0.852 0.852 0.852 0.852 0.852 0.852 0.852 0.852 0.852 0.852 0.852 0.852 0.852 0.852 0.852 0.852 0.852 0.852 0.851 0.851 0.851 0.851 0.851 0.851 0.851 0.851 0.85 0.85 0.85 0.849 0.849 0.848 0.848 0.847 0.847 0.846 0.845 0.845 0.844 0.843 0.842 0.841 0.84 0.839 0.838 0.837 0.835 0.834 0.833 0.831 0.83 0.829 0.827 0.826 0.824 0.823 0.821 0.819 0.818 0.816 0.814 0.812 0.81 0.808 0.806 0.804 0.802 0.8 0.797 0.795 0.792 0.789 0.787 0.784 0.781 0.777 0.774 0.771 0.768 0.765 0.761 0.758 0.755 0.752 0.749 0.746 0.743 0.739 0.735 0.732 0.729 0.725 0.722 0.719 0.716 0.713 0.71 0.707 0.703 0.7 0.697 0.694 0.691 0.688 0.686 0.683 0.681 0.679 0.677 0.675 0.673 0.671 0.669 0.668 0.666 0.664 0.662 0.661 0.659 0.658 0.656 0.654 0.653 0.652 0.65 0.649 0.648 0.647 0.646 0.645 0.643 0.642 0.641 0.64 0.639 0.638 0.638 0.637 0.636 0.635 0.635 0.634 0.634 0.633 0.633 0.632 0.632 0.631 0.631 0.631 0.631 0.631 0.63 0.63 0.63 0.63 0.63 0.63 0.63 0.63 0.63 0.63 0.63 0.63 0.63 0.63 0.63 0.63 0.63 0.63 0.63 0.63 0.63 0.63 0.63 0.63 0.63 0.63 0.63 0.63 0.63 0.63 0.63 0.63 0.63 0.63 0.63 0.63 0.63 0.63 0.63 0.63 0.63 0.63 0.63 0.63 0.63 0.63 0.63 0.63 0.63 0.63 0.63 0.63 0.63 0.63 0.63 0.63 0.63 0.63 0.63 0.63 0.63 0.63 0.63"/><feFuncB type="table" tableValues="0 0 0 0 0 0 0 0 0 0 0 0 0 0 0 0 0 0 0 0 0 0 0 0 0 0 0 0 0 0 0 0 0 0 0 0 0 0 0 0 0 0 0 0 0 0 0 0 0 0 0 0 0 0 0 0 0 0 0 0 0 0 0 0 0 0 0 0 0 0 0 0 0 0 0 0 0 0 0 0 0 0 0 0 0 0 0 0 0 0 0 0 0 0 0 0 0 0 0 0 0 0 0 0 0 0 0 0 0 0 0 0 0 0 0 0 0 0 0 0 0 0 0 0 0 0 0 0 0 0 0 0 0 0 0 0 0 0 0 0 0 0 0 0 0 0 0 0 0 0 0 0 0 0 0 0 0 0 0 0 0 0 0 0 0 0 0 0 0 0 0 0 0 0 0 0 0 0 0 0 0 0 0 0 0 0 0 0 0 0 0 0 0 0 0 0 0 0 0 0 0 0 0 0 0 0 0 0 0 0 0 0 0 0 0 0 0 0 0 0 0 0 0 0 0 0 0 0 0 0 0 0 0 0 0 0 0 0 0 0 0 0 0 0 0 0 0 0 0 0 0 0 0 0 0 0"/></feComponentTransfer>
</filter>
<filter id="f2T" x="0" y="0" width="100%" height="100%" color-interpolation-filters="sRGB">
<feTurbulence type="fractalNoise" baseFrequency="1.7" numOctaves="1" seed="3"/>
<feColorMatrix type="matrix" values="1 0 0 0 0  1 0 0 0 0  1 0 0 0 0  0 0 0 0 1"/>
<feComponentTransfer><feFuncR type="table" tableValues="0 0 0 0 0 0 0 0 0 0 0 0 0 0 0 0 0 0 0 0 0 0 0 0 0 0 0 0 0 0 0 0 0 0 0 0 0 0 0 0 0 0 0 0 0 0 0 0 0 0 0 0 0 0 0 0 0 0 0 0 0 0 0 0 0 0 0 0 0 0 0 0 0 0 0 0 0 0 0 0 0 0 0 0 0 0 0 0 0 0 0 0 0 0 0 0 0 0 0 0 0 0 0.0297 0.0862 0.141 0.199 0.26 0.324 0.388 0.453 0.527 0.606 0.685 0.764 0.849 0.941 1 1 1 1 1 1 1 1 0.959 0.834 0.707 0.609 0 0 0 0 0 0 0 0 0 0 0 0 0 0 0 0.00922 0.0271 0.0444 0.0602 0.0748 0.0891 0.103 0.117 0.13 0.142 0.154 0.166 0.177 0.189 0.2 0.211 0.222 0.233 0.244 0.254 0.263 0.272 0.281 0.289 0.297 0.305 0.313 0.32 0.327 0.335 0.341 0.348 0.354 0.36 0.366 0.371 0.376 0.381 0.385 0.389 0.393 0.396 0.4 0.403 0.405 0.407 0.409 0.411 0.412 0.413 0.414 0.415 0.415 0.416 0.417 0.417 0.417 0.418 0.418 0.418 0.418 0.419 0.419 0.419 0.419 0.419 0.419 0.419 0.419 0.419 0.419 0.419 0.419 0.419 0.419 0.419 0.419 0.419 0.419 0.419 0.419 0.419 0.419 0.419 0.419 0.419 0.419 0.419 0.419 0.419 0.419 0.419 0.419 0.419 0.419 0.419 0.419 0.419 0.419 0.419 0.419 0.419 0.419 0.419 0.419 0.419 0.419 0.419 0.419 0.419 0.419 0.419 0.419"/><feFuncG type="table" tableValues="0 0 0 0 0 0 0 0 0 0 0 0 0 0 0 0 0 0 0 0 0 0 0 0 0 0 0 0 0 0 0 0 0 0 0 0 0 0 0 0 0 0 0 0 0 0 0 0 0 0 0 0 0 0 0 0 0 0 0 0 0 0 0 0 0 0 0 0 0 0 0 0 0 0 0 0 0 0 0 0 0 0 0 0 0 0.00874 0.0495 0.0952 0.141 0.187 0.234 0.281 0.329 0.379 0.43 0.487 0.547 0.608 0.67 0.734 0.8 0.867 0.937 1 1 1 1 1 1 1 1 1 1 1 1 0.993 0.887 0.78 0.674 0.568 0.461 0.356 0.252 0.145 0.0407 0 0 0 0.511 0.551 0.576 0.6 0.626 0.652 0.678 0.704 0.73 0.756 0.783 0.81 0.836 0.862 0.888 0.911 0.934 0.955 0.975 0.993 1 1 1 1 1 1 1 1 1 1 1 1 1 1 1 1 1 1 1 1 1 1 1 1 1 1 1 1 1 1 1 1 1 1 1 1 1 1 1 1 1 1 1 1 1 1 1 1 1 1 1 1 1 1 1 1 1 1 1 1 1 1 1 1 1 1 1 1 1 1 1 1 1 1 1 1 1 1 1 1 1 1 1 1 1 1 1 1 1 1 1 1 1 1 1 1 1 1 1 1 1 1 1 1 1 1 1 1"/><feFuncB type="table" tableValues="0.5 0.5 0.5 0.5 0.5 0.5 0.5 0.5 0.5 0.5 0.5 0.5 0.5 0.5 0.5 0.5 0.5 0.5 0.5 0.5 0.5 0.5 0.5 0.5 0.5 0.5 0.5 0.5 0.5 0.5 0.5 0.5 0.5 0.5 0.5 0.5 0.5 0.5 0.5 0.5 0.5 0.5 0.5 0.5 0.5 0.501 0.501 0.501 0.501 0.502 0.503 0.503 0.504 0.505 0.506 0.508 0.509 0.511 0.513 0.516 0.519 0.523 0.528 0.532 0.538 0.545 0.554 0.564 0.577 0.59 0.606 0.623 0.643 0.664 0.686 0.71 0.738 0.767 0.799 0.832 0.866 0.905 0.947 0.988 1 1 1 1 1 1 1 1 1 1 1 1 1 1 1 1 1 0.994 0.938 0.882 0.826 0.769 0.708 0.644 0.58 0.515 0.441 0.362 0.283 0.203 0.118 0.0263 0 0 0 0 0 0 0 0 0 0 0 0 1 1 1 1 1 1 1 1 1 1 1 1 1 0.998 0.978 0.959 0.941 0.923 0.908 0.893 0.879 0.864 0.851 0.838 0.826 0.814 0.802 0.79 0.779 0.768 0.757 0.745 0.735 0.724 0.714 0.705 0.696 0.687 0.679 0.671 0.663 0.655 0.648 0.641 0.633 0.626 0.62 0.613 0.607 0.602 0.596 0.591 0.587 0.582 0.578 0.575 0.571 0.568 0.565 0.563 0.561 0.559 0.557 0.556 0.555 0.554 0.553 0.552 0.552 0.551 0.551 0.55 0.55 0.55 0.55 0.549 0.549 0.549 0.549 0.549 0.549 0.549 0.549 0.549 0.548 0.548 0.548 0.548 0.548 0.548 0.548 0.548 0.548 0.548 0.548 0.548 0.548 0.548 0.548 0.548 0.548 0.548 0.548 0.548 0.548 0.548 0.548 0.548 0.548 0.548 0.548 0.548 0.548 0.548 0.548 0.548 0.548 0.548 0.548 0.548 0.548 0.548 0.548 0.548 0.548 0.548 0.548 0.548"/></feComponentTransfer>
</filter>
<filter id="f2t" x="0" y="0" width="100%" height="100%" color-interpolation-filters="sRGB">
<feTurbulence type="fractalNoise" baseFrequency="1.7" numOctaves="1" seed="3"/>
<feColorMatrix type="matrix" values="1 0 0 0 0  1 0 0 0 0  1 0 0 0 0  0 0 0 0 1"/>
<feComponentTransfer><feFuncR type="table" tableValues="0 0 0 0 0 0 0 0 0 0 0 0 0 0 0 0 0 0 0 0 0 0 0 0 0 0 0 0 0 0 0 0 0 0 0 0 0 0 0 0 0 0 0 0 0 0 0 0 0 0 0 0 0 0 0 0 0 0 0 0 0 0 0 0 0 0 0 0 0 0 0 0 0 0 0 0 0 0 0 0 0 0 0 0 0 0 0 0 0 0 0 0 0 0 0 0 0 0 0 0 0 0 0 0 0 0 0 0 0 0 0 0.0274 0.0801 0.133 0.19 0.251 0.313 0.375 0.437 0.498 0.56 0.621 0.682 0.744 0.804 0.863 0.923 0.97 1 1 1 1 1 1 1 1 1 1 1 0.995 0.909 0.823 0.738 0.66 0.587 0.516 0 0 0 0 0 0 0 0 0 0 0 0 0 0 0 0 0 0 0 0 0 0 0 0 0 0 0 0 0 0 0.00742 0.022 0.0359 0.0494 0.0615 0.0725 0.0831 0.0927 0.102 0.11 0.118 0.124 0.13 0.135 0.139 0.142 0.145 0.147 0.149 0.151 0.153 0.154 0.155 0.156 0.157 0.158 0.158 0.159 0.159 0.16 0.16 0.16 0.16 0.161 0.161 0.161 0.161 0.161 0.161 0.161 0.161 0.161 0.161 0.161 0.161 0.161 0.161 0.161 0.161 0.161 0.161 0.161 0.161 0.161 0.161 0.161 0.161 0.161 0.161 0.161 0.161 0.161 0.161 0.161 0.161 0.161 0.161 0.161 0.161 0.161 0.161 0.161 0.161 0.161 0.161 0.161 0.161 0.161 0.161 0.161"/><feFuncG type="table" tableValues="0 0 0 0 0 0 0 0 0 0 0 0 0 0 0 0 0 0 0 0 0 0 0 0 0 0 0 0 0 0 0 0 0 0 0 0 0 0 0 0 0 0 0 0 0 0 0 0 0 0 0 0 0 0 0 0 0 0 0 0 0 0 0 0 0 0 0 0 0 0 0 0 0 0 0 0 0 0 0 0 0 0 0 0 0 0 0 0 0 0 0 0.021 0.0528 0.0858 0.12 0.158 0.198 0.239 0.28 0.322 0.367 0.411 0.458 0.505 0.55 0.597 0.648 0.701 0.754 0.808 0.869 0.934 0.999 1 1 1 1 1 1 1 1 1 1 1 1 1 1 0.961 0.871 0.765 0.698 0.632 0.562 0.492 0.424 0.354 0.284 0.214 0.142 0.0697 0 0 0 0 0 0 0 0 0.0318 0.0781 0.122 0.162 0.202 0.242 0.28 0.317 0.355 0.391 0.427 0.463 0.498 0.532 0.564 0.594 0.623 0.651 0.678 0.705 0.73 0.755 0.779 0.802 0.826 0.848 0.87 0.89 0.909 0.927 0.945 0.961 0.976 0.99 1 1 1 1 1 1 1 1 1 1 1 1 1 1 1 1 1 1 1 1 1 1 1 1 1 1 1 1 1 1 1 1 1 1 1 1 1 1 1 1 1 1 1 1 1 1 1 1 1 1 1 1 1 1 1 1 1 1 1 1 1 1 1 1 1 1 1 1 1 1 1 1 1 1"/><feFuncB type="table" tableValues="0.5 0.5 0.5 0.5 0.5 0.5 0.5 0.5 0.5 0.5 0.5 0.5 0.5 0.5 0.5 0.5 0.5 0.5 0.5 0.5 0.5 0.5 0.5 0.5 0.5 0.5 0.5 0.5 0.5 0.5 0.5 0.5 0.5 0.5 0.5 0.5 0.5 0.5 0.5 0.5 0.5 0.5 0.5 0.5 0.5 0.5 0.5 0.501 0.501 0.501 0.502 0.502 0.503 0.503 0.504 0.505 0.506 0.507 0.509 0.511 0.513 0.516 0.518 0.522 0.526 0.53 0.536 0.543 0.551 0.56 0.57 0.582 0.595 0.609 0.624 0.64 0.658 0.678 0.699 0.722 0.744 0.77 0.798 0.825 0.855 0.885 0.916 0.951 0.986 1 1 1 1 1 1 1 1 1 1 1 1 1 1 1 1 1 1 1 1 1 0.993 0.94 0.888 0.834 0.778 0.716 0.655 0.592 0.531 0.469 0.408 0.347 0.286 0.224 0.163 0.104 0.0444 0 0 0 0 0 0 0 0 0 0 0 0 0 0 0 0 0 0 0 0.998 1 1 1 1 1 1 1 1 1 1 1 1 1 1 1 1 1 1 1 1 1 1 1 1 1 1 1 0.992 0.976 0.96 0.946 0.932 0.918 0.906 0.895 0.885 0.875 0.866 0.858 0.85 0.844 0.838 0.833 0.829 0.826 0.823 0.821 0.819 0.817 0.815 0.814 0.813 0.812 0.811 0.81 0.809 0.809 0.808 0.808 0.808 0.808 0.807 0.807 0.807 0.807 0.807 0.807 0.807 0.806 0.806 0.806 0.806 0.806 0.806 0.806 0.806 0.806 0.806 0.806 0.806 0.806 0.806 0.806 0.806 0.806 0.806 0.806 0.806 0.806 0.806 0.806 0.806 0.806 0.806 0.806 0.806 0.806 0.806 0.806 0.806 0.806 0.806 0.806 0.806 0.806 0.806 0.806 0.806 0.806"/></feComponentTransfer>
</filter>
<filter id="f2O" x="0" y="0" width="100%" height="100%" color-interpolation-filters="sRGB">
<feTurbulence type="fractalNoise" baseFrequency="1.7" numOctaves="1" seed="3"/>
<feColorMatrix type="matrix" values="1 0 0 0 0  1 0 0 0 0  1 0 0 0 0  0 0 0 0 1"/>
<feComponentTransfer><feFuncR type="table" tableValues="0 0 0 0 0 0 0 0 0 0 0 0 0 0 0 0 0 0 0 0 0 0 0 0 0 0 0 0 0 0 0 0 0 0 0 0 0 0 0 0 0 0 0 0 0 0 0 0 0 0 0 0 0 0 0 0 0 0 0 0 0 0 0 0 0 0 0 0 0 0 0 0 0 0 0 0 0 0 0 0 0 0 0 0 0 0 0 0 0 0 0 0 0 0 0 0 0 0 0 0 0 0 0 0 0 0 0 0 0 0 0 0 0 0 0 0 0 0 0 0 0 0 0 0 0 0 0 0 0 0 0 0 0 0 0 0 0 0 0 0 0 0 0 0 0 0 0 0 0 0 0 0 0 0 0 0 0 0 0 0 0 0 0 0 0 0 0 0 0 0 0 0 0 0 0 0 0 0 0 0 0 0 0 0 0 0 0 0 0 0 0 0 0 0 0 0 0 0 0 0 0 0 0 0 0 0 0 0 0 0 0 0 0 0 0 0 0 0 0 0 0 0 0 0 0 0 0 0 0 0 0 0 0 0 0 0 0 0 0 0 0 0 0 0 0 0 0 0 0 0 0 0 0 0 0 0"/><feFuncG type="table" tableValues="0.46 0.46 0.46 0.46 0.46 0.46 0.46 0.46 0.46 0.46 0.46 0.46 0.46 0.46 0.46 0.46 0.46 0.46 0.46 0.46 0.46 0.46 0.46 0.46 0.46 0.46 0.46 0.46 0.46 0.46 0.46 0.46 0.46 0.46 0.46 0.46 0.46 0.46 0.46 0.46 0.46 0.46 0.46 0.46 0.46 0.46 0.46 0.46 0.46 0.46 0.46 0.46 0.46 0.46 0.46 0.46 0.46 0.46 0.461 0.461 0.461 0.461 0.461 0.461 0.462 0.462 0.462 0.463 0.463 0.464 0.465 0.465 0.466 0.467 0.468 0.469 0.47 0.472 0.473 0.475 0.476 0.478 0.48 0.481 0.483 0.485 0.487 0.49 0.492 0.494 0.497 0.499 0.501 0.504 0.507 0.509 0.512 0.515 0.518 0.522 0.525 0.528 0.532 0.535 0.539 0.542 0.546 0.55 0.554 0.558 0.563 0.568 0.572 0.577 0.583 0.588 0.594 0.6 0.606 0.611 0.617 0.623 0.628 0.634 0.64 0.645 0.651 0.655 0.662 0.671 0.676 0.682 0.687 0.693 0.699 0.704 0.71 0.716 0.722 0.727 0.733 0.739 0.744 0.749 0.754 0.759 0.763 0.767 0.771 0.775 0.778 0.782 0.785 0.788 0.792 0.795 0.798 0.801 0.804 0.807 0.81 0.813 0.815 0.818 0.82 0.823 0.825 0.827 0.829 0.831 0.833 0.835 0.837 0.839 0.841 0.843 0.844 0.846 0.847 0.848 0.85 0.851 0.852 0.853 0.854 0.855 0.856 0.856 0.857 0.857 0.858 0.858 0.858 0.859 0.859 0.859 0.859 0.859 0.859 0.859 0.86 0.86 0.86 0.86 0.86 0.86 0.86 0.86 0.86 0.86 0.86 0.86 0.86 0.86 0.86 0.86 0.86 0.86 0.86 0.86 0.86 0.86 0.86 0.86 0.86 0.86 0.86 0.86 0.86 0.86 0.86 0.86 0.86 0.86 0.86 0.86 0.86 0.86 0.86 0.86 0.86 0.86 0.86 0.86 0.86 0.86 0.86 0.86 0.86 0.86 0.86 0.86 0.86 0.86 0.86 0.86"/><feFuncB type="table" tableValues="1 1 1 1 1 1 1 1 1 1 1 1 1 1 1 1 1 1 1 1 1 1 1 1 1 1 1 1 1 1 1 1 1 1 1 1 1 1 1 1 1 1 1 1 1 1 1 1 1 1 1 1 1 1 1 1 1 1 1 1 1 1 1 1 1 1 1 1 1 1 1 1 1 1 1 1 1 1 1 1 1 1 1 1 1 1 1 1 1 1 1 1 1 1 1 1 1 1 1 1 1 1 1 1 1 1 1 1 1 1 1 1 1 1 1 1 1 1 1 1 1 1 1 1 1 1 1 1 1 1 1 1 1 1 1 1 1 1 1 1 1 1 1 1 1 1 1 1 1 1 1 1 1 1 1 1 1 1 1 1 1 1 1 1 1 1 1 1 1 1 1 1 1 1 1 1 1 1 1 1 1 1 1 1 1 1 1 1 1 1 1 1 1 1 1 1 1 1 1 1 1 1 1 1 1 1 1 1 1 1 1 1 1 1 1 1 1 1 1 1 1 1 1 1 1 1 1 1 1 1 1 1 1 1 1 1 1 1 1 1 1 1 1 1 1 1 1 1 1 1 1 1 1 1 1 1"/></feComponentTransfer>
</filter>
<filter id="f2O2" x="0" y="0" width="100%" height="100%" color-interpolation-filters="sRGB">
<feTurbulence type="fractalNoise" baseFrequency="1.7" numOctaves="1" seed="3"/>
<feColorMatrix type="matrix" values="1 0 0 0 0  1 0 0 0 0  1 0 0 0 0  0 0 0 0 1"/>
<feComponentTransfer><feFuncR type="table" tableValues="0 0 0 0 0 0 0 0 0 0 0 0 0 0 0 0 0 0 0 0 0 0 0 0 0 0 0 0 0 0 0 0 0 0 0 0 0 0 0 0 0 0 0 0 0 0 0 0 0 0 0 0 0 0 0 0 0 0 0 0 0 0 0 0 0 0 0 0 0 0 0 0 0 0 0 0 0 0 0 0 0 0 0 0 0 0 0 0 0 0 0 0 0 0 0 0 0 0 0 0 0 0 0 0 0 0 0 0.000849 0.00374 0.00668 0.01 0.0135 0.0171 0.0207 0.0245 0.0287 0.0328 0.037 0.0412 0.0453 0.0495 0.0536 0.0577 0.0619 0.066 0.07 0.074 0.0772 0.0824 0.0887 0.0926 0.0965 0.101 0.105 0.109 0.113 0.117 0.121 0.125 0.13 0.134 0.138 0.142 0.146 0.149 0.152 0.156 0.158 0.161 0.164 0.167 0.169 0.171 0.174 0.176 0.178 0.181 0.183 0.185 0.187 0.189 0.191 0.193 0.195 0.197 0.199 0.2 0.202 0.203 0.205 0.206 0.208 0.209 0.211 0.212 0.213 0.214 0.215 0.216 0.217 0.218 0.219 0.22 0.221 0.221 0.222 0.223 0.223 0.223 0.224 0.224 0.224 0.225 0.225 0.225 0.225 0.225 0.225 0.225 0.225 0.225 0.226 0.226 0.226 0.226 0.226 0.226 0.226 0.226 0.226 0.226 0.226 0.226 0.226 0.226 0.226 0.226 0.226 0.226 0.226 0.226 0.226 0.226 0.226 0.226 0.226 0.226 0.226 0.226 0.226 0.226 0.226 0.226 0.226 0.226 0.226 0.226 0.226 0.226 0.226 0.226 0.226 0.226 0.226 0.226 0.226 0.226 0.226 0.226 0.226 0.226 0.226 0.226 0.226 0.226 0.226"/><feFuncG type="table" tableValues="0.82 0.82 0.82 0.82 0.82 0.82 0.82 0.82 0.82 0.82 0.82 0.82 0.82 0.82 0.82 0.82 0.82 0.82 0.82 0.82 0.82 0.82 0.82 0.82 0.82 0.82 0.82 0.82 0.82 0.82 0.82 0.82 0.82 0.82 0.82 0.82 0.82 0.82 0.82 0.82 0.82 0.82 0.82 0.82 0.82 0.82 0.82 0.82 0.82 0.82 0.82 0.82 0.82 0.82 0.82 0.82 0.82 0.82 0.821 0.821 0.821 0.821 0.821 0.821 0.822 0.822 0.822 0.823 0.823 0.824 0.824 0.825 0.826 0.826 0.827 0.828 0.829 0.831 0.832 0.833 0.835 0.836 0.838 0.839 0.841 0.843 0.845 0.847 0.849 0.851 0.853 0.855 0.857 0.86 0.862 0.864 0.867 0.87 0.873 0.876 0.878 0.882 0.885 0.888 0.891 0.894 0.897 0.901 0.905 0.908 0.912 0.917 0.921 0.926 0.93 0.936 0.941 0.946 0.951 0.956 0.961 0.966 0.972 0.977 0.982 0.987 0.992 0.996 1 1 1 1 1 1 1 1 1 1 1 1 1 1 1 1 1 1 1 1 1 1 1 1 1 1 1 1 1 1 1 1 1 1 1 1 1 1 1 1 1 1 1 1 1 1 1 1 1 1 1 1 1 1 1 1 1 1 1 1 1 1 1 1 1 1 1 1 1 1 1 1 1 1 1 1 1 1 1 1 1 1 1 1 1 1 1 1 1 1 1 1 1 1 1 1 1 1 1 1 1 1 1 1 1 1 1 1 1 1 1 1 1 1 1 1 1 1 1 1 1 1 1 1 1 1 1 1"/><feFuncB type="table" tableValues="1 1 1 1 1 1 1 1 1 1 1 1 1 1 1 1 1 1 1 1 1 1 1 1 1 1 1 1 1 1 1 1 1 1 1 1 1 1 1 1 1 1 1 1 1 1 1 1 1 1 1 1 1 1 1 1 1 1 1 1 1 1 1 1 1 1 1 1 1 1 1 1 1 1 1 1 1 1 1 1 1 1 1 1 1 1 1 1 1 1 1 1 1 1 0.998 0.996 0.994 0.992 0.99 0.987 0.985 0.983 0.98 0.978 0.975 0.973 0.97 0.967 0.964 0.961 0.958 0.954 0.951 0.947 0.943 0.939 0.935 0.931 0.927 0.922 0.918 0.914 0.91 0.906 0.902 0.898 0.894 0.891 0.885 0.879 0.875 0.871 0.867 0.863 0.859 0.855 0.851 0.847 0.842 0.838 0.834 0.83 0.826 0.822 0.819 0.815 0.812 0.809 0.807 0.804 0.801 0.799 0.796 0.794 0.792 0.789 0.787 0.785 0.783 0.78 0.778 0.776 0.774 0.773 0.771 0.769 0.767 0.766 0.764 0.763 0.761 0.76 0.759 0.757 0.756 0.755 0.753 0.752 0.751 0.75 0.749 0.749 0.748 0.747 0.746 0.746 0.745 0.745 0.744 0.744 0.744 0.743 0.743 0.743 0.743 0.743 0.743 0.742 0.742 0.742 0.742 0.742 0.742 0.742 0.742 0.742 0.742 0.742 0.742 0.742 0.742 0.742 0.742 0.742 0.742 0.742 0.742 0.742 0.742 0.742 0.742 0.742 0.742 0.742 0.742 0.742 0.742 0.742 0.742 0.742 0.742 0.742 0.742 0.742 0.742 0.742 0.742 0.742 0.742 0.742 0.742 0.742 0.742 0.742 0.742 0.742 0.742 0.742 0.742 0.742 0.742 0.742 0.742 0.742 0.742 0.742"/></feComponentTransfer>
</filter>
<filter id="f2D" x="0" y="0" width="100%" height="100%" color-interpolation-filters="sRGB">
<feTurbulence type="fractalNoise" baseFrequency="1.7" numOctaves="1" seed="3"/>
<feColorMatrix type="matrix" values="1 0 0 0 0  1 0 0 0 0  1 0 0 0 0  0 0 0 0 1"/>
<feComponentTransfer><feFuncR type="table" tableValues="0 0 0 0 0 0 0 0 0 0 0 0 0 0 0 0 0 0 0 0 0 0 0 0 0 0 0 0 0 0 0 0 0 0 0 0 0 0 0 0 0 0 0 0 0 0 0 0 0 0 0 0 0 0 0 0 0 0 0 0 0 0 0 0 0 0 0 0 0 0 0 0 0.136 0.325 0.522 0.734 0.98 1 1 0.891 0.355 0.357 0.358 0.36 0.362 0.364 0.365 0.368 0.37 0.372 0.374 0.376 0.378 0.381 0.383 0.386 0.388 0.391 0.394 0.397 0.4 0.403 0.406 0.41 0.413 0.416 0.42 0.423 0.427 0.431 0.435 0.439 0.444 0.449 0.453 0.459 0.464 0.469 0.475 0.48 0.485 0.49 0.496 0.501 0.506 0.511 0.516 0.52 0.527 0.535 0.54 0.545 0.55 0.555 0.561 0.566 0.571 0.576 0.582 0.587 0.592 0.598 0.603 0.608 0.612 0.616 0.62 0.624 0.627 0.631 0.634 0.637 0.641 0.644 0.647 0.649 0.652 0.655 0.658 0.661 0.663 0.666 0.668 0.671 0.673 0.675 0.677 0.679 0.681 0.683 0.685 0.687 0.689 0.69 0.692 0.694 0.695 0.696 0.698 0.699 0.7 0.701 0.702 0.703 0.704 0.705 0.706 0.706 0.707 0.707 0.708 0.708 0.708 0.708 0.709 0.709 0.709 0.709 0.709 0.709 0.709 0.709 0.709 0.709 0.709 0.71 0.71 0.71 0.71 0.71 0.71 0.71 0.71 0.71 0.71 0.71 0.71 0.71 0.71 0.71 0.71 0.71 0.71 0.71 0.71 0.71 0.71 0.71 0.71 0.71 0.71 0.71 0.71 0.71 0.71 0.71 0.71 0.71 0.71 0.71 0.71 0.71 0.71 0.71 0.71 0.71 0.71 0.71 0.71 0.71 0.71 0.71 0.71 0.71 0.71 0.71"/><feFuncG type="table" tableValues="0 0 0 0 0 0 0 0 0 0 0 0 0 0 0 0 0 0 0 0 0 0 0 0 0 0 0 0 0 0 0 0 0 0 0 0 0 0 0 0 0 0 0 0 0 0 0 0 0 0 0 0 0 0 0 0 0 0 0 0 0 0 0 0 0 0 0.0895 0.203 0.343 0.494 0.662 0.853 1 1 1 1 0.949 0.65 0.326 0 1 1 1 1 1 1 1 1 1 1 1 1 1 1 1 1 1 1 1 1 1 1 1 1 1 1 1 1 1 1 1 1 1 1 1 1 1 1 1 1 1 1 1 1 1 1 1 1 1 1 1 1 1 1 1 1 1 1 1 1 1 1 1 1 1 1 1 1 1 1 1 1 1 1 1 1 1 1 1 1 1 1 1 1 1 1 1 1 1 1 1 1 1 1 1 1 1 1 1 1 1 1 1 1 1 1 1 1 1 1 1 1 1 1 1 1 1 1 1 1 1 1 1 1 1 1 1 1 1 1 1 1 1 1 1 1 1 1 1 1 1 1 1 1 1 1 1 1 1 1 1 1 1 1 1 1 1 1 1 1 1 1 1 1 1 1 1 1 1 1 1 1 1 1 1 1"/><feFuncB type="table" tableValues="0.5 0.5 0.5 0.5 0.5 0.5 0.5 0.5 0.5 0.5 0.5 0.5 0.5 0.5 0.5 0.5 0.5 0.5 0.5 0.5 0.5 0.5 0.5 0.5 0.5 0.5 0.5 0.5 0.5 0.5 0.5 0.5 0.5 0.5 0.5 0.5 0.5 0.5 0.5 0.5 0.5 0.501 0.502 0.504 0.506 0.507 0.509 0.513 0.519 0.525 0.532 0.541 0.552 0.565 0.578 0.594 0.615 0.638 0.666 0.701 0.743 0.792 0.844 0.906 0.979 1 1 1 1 1 1 1 0.832 0.642 0.445 0.233 0 0 0 0 0.613 0.611 0.61 0.608 0.606 0.604 0.602 0.6 0.598 0.596 0.594 0.592 0.589 0.587 0.585 0.582 0.579 0.576 0.574 0.571 0.568 0.565 0.561 0.558 0.555 0.552 0.548 0.544 0.541 0.537 0.533 0.528 0.524 0.519 0.514 0.509 0.504 0.498 0.493 0.488 0.483 0.477 0.472 0.467 0.462 0.456 0.451 0.447 0.441 0.433 0.428 0.423 0.418 0.412 0.407 0.402 0.397 0.391 0.386 0.381 0.375 0.37 0.365 0.36 0.356 0.351 0.348 0.344 0.34 0.337 0.333 0.33 0.327 0.324 0.321 0.318 0.315 0.313 0.31 0.307 0.304 0.302 0.299 0.297 0.295 0.293 0.291 0.289 0.287 0.285 0.283 0.281 0.279 0.277 0.276 0.274 0.273 0.271 0.27 0.269 0.268 0.267 0.266 0.265 0.264 0.263 0.262 0.262 0.261 0.261 0.26 0.26 0.26 0.259 0.259 0.259 0.259 0.259 0.259 0.259 0.258 0.258 0.258 0.258 0.258 0.258 0.258 0.258 0.258 0.258 0.258 0.258 0.258 0.258 0.258 0.258 0.258 0.258 0.258 0.258 0.258 0.258 0.258 0.258 0.258 0.258 0.258 0.258 0.258 0.258 0.258 0.258 0.258 0.258 0.258 0.258 0.258 0.258 0.258 0.258 0.258 0.258 0.258 0.258 0.258 0.258 0.258 0.258 0.258 0.258 0.258 0.258 0.258 0.258 0.258 0.258"/></feComponentTransfer>
</filter>
<filter id="f2L" x="0" y="0" width="100%" height="100%" color-interpolation-filters="sRGB">
<feTurbulence type="fractalNoise" baseFrequency="1.7" numOctaves="1" seed="3"/>
<feColorMatrix type="matrix" values="1 0 0 0 0  1 0 0 0 0  1 0 0 0 0  0 0 0 0 1"/>
<feComponentTransfer><feFuncR type="table" tableValues="0 0 0 0 0 0 0 0 0 0 0 0 0 0 0 0 0 0 0 0 0 0 0 0 0 0 0 0 0 0 0 0 0 0 0 0 0 0 0 0 0 0 0 0 0 0 0 0 0 0 0 0 0 0 0 0 0 0 0 0 0 0 0 0 0 0 0 0 0 0 0 0 0 0 0 0 0 0 0 0 0 0 0 0 0 0 0 0 0 0 0 0 0 0 0 0 0 0 0 0 0 0 0 0 0 0 0 0 0 0 0 0 0 0 0 0 0 0 0 0 0 0 0 0 0 0 0 0 0 0 0 0 0 0 0 0 0 0 0 0 0 0 0 0 0 0 0 0 0 0 0 0 0 0 0 0 0 0 0 0 0 0 0 0 0 0 0 0 0 0 0 0 0 0 0 0 0 0 0 0 0 0 0 0 0 0 0 0 0 0 0 0 0 0 0 0 0 0 0 0 0 0 0 0 0 0 0 0 0 0 0 0 0 0 0 0 0 0 0 0 0 0 0 0 0 0 0 0 0 0 0 0 0 0 0 0 0 0 0 0 0 0 0 0 0 0 0 0 0 0 0 0 0 0 0 0"/><feFuncG type="table" tableValues="0.22 0.22 0.22 0.22 0.22 0.22 0.22 0.22 0.22 0.22 0.22 0.22 0.22 0.22 0.22 0.22 0.22 0.22 0.22 0.22 0.22 0.22 0.22 0.22 0.22 0.22 0.22 0.22 0.22 0.22 0.22 0.22 0.22 0.22 0.22 0.22 0.22 0.22 0.22 0.22 0.22 0.22 0.22 0.22 0.22 0.22 0.22 0.22 0.22 0.22 0.22 0.22 0.22 0.22 0.22 0.22 0.22 0.22 0.22 0.22 0.221 0.221 0.221 0.221 0.221 0.221 0.221 0.222 0.222 0.222 0.223 0.223 0.224 0.224 0.225 0.226 0.226 0.227 0.228 0.229 0.23 0.231 0.232 0.233 0.234 0.235 0.236 0.238 0.239 0.241 0.242 0.243 0.245 0.246 0.248 0.25 0.251 0.253 0.255 0.257 0.259 0.261 0.263 0.265 0.267 0.269 0.272 0.274 0.276 0.279 0.282 0.285 0.287 0.29 0.294 0.297 0.3 0.304 0.307 0.311 0.314 0.318 0.321 0.324 0.328 0.331 0.335 0.337 0.341 0.347 0.35 0.353 0.356 0.36 0.363 0.367 0.37 0.373 0.377 0.38 0.384 0.387 0.391 0.394 0.397 0.399 0.402 0.404 0.407 0.409 0.411 0.413 0.415 0.417 0.419 0.421 0.423 0.425 0.426 0.428 0.43 0.432 0.433 0.435 0.436 0.438 0.439 0.44 0.441 0.443 0.444 0.445 0.446 0.447 0.448 0.45 0.45 0.451 0.452 0.453 0.454 0.454 0.455 0.456 0.456 0.457 0.457 0.458 0.458 0.458 0.459 0.459 0.459 0.459 0.459 0.459 0.459 0.46 0.46 0.46 0.46 0.46 0.46 0.46 0.46 0.46 0.46 0.46 0.46 0.46 0.46 0.46 0.46 0.46 0.46 0.46 0.46 0.46 0.46 0.46 0.46 0.46 0.46 0.46 0.46 0.46 0.46 0.46 0.46 0.46 0.46 0.46 0.46 0.46 0.46 0.46 0.46 0.46 0.46 0.46 0.46 0.46 0.46 0.46 0.46 0.46 0.46 0.46 0.46 0.46 0.46 0.46 0.46 0.46 0.46 0.46"/><feFuncB type="table" tableValues="1 1 1 1 1 1 1 1 1 1 1 1 1 1 1 1 1 1 1 1 1 1 1 1 1 1 1 1 1 1 1 1 1 1 1 1 1 1 1 1 1 1 1 1 1 1 1 1 1 1 1 1 1 1 1 1 1 1 1 1 1 1 1 1 1 1 1 1 1 1 1 1 1 1 1 1 1 1 1 1 1 1 1 1 1 1 1 1 1 1 1 1 1 1 1 1 1 1 1 1 1 1 1 1 1 1 1 1 1 1 1 1 1 1 1 1 1 1 1 1 1 1 1 1 1 1 1 1 1 1 1 1 1 1 1 1 1 1 1 1 1 1 1 1 1 1 1 1 1 1 1 1 1 1 1 1 1 1 1 1 1 1 1 1 1 1 1 1 1 1 1 1 1 1 1 1 1 1 1 1 1 1 1 1 1 1 1 1 1 1 1 1 1 1 1 1 1 1 1 1 1 1 1 1 1 1 1 1 1 1 1 1 1 1 1 1 1 1 1 1 1 1 1 1 1 1 1 1 1 1 1 1 1 1 1 1 1 1 1 1 1 1 1 1 1 1 1 1 1 1 1 1 1 1 1 1"/></feComponentTransfer>
</filter>
<filter id="f2C" x="0" y="0" width="100%" height="100%" color-interpolation-filters="sRGB">
<feTurbulence type="fractalNoise" baseFrequency="1.7" numOctaves="1" seed="3"/>
<feColorMatrix type="matrix" values="1 0 0 0 0  1 0 0 0 0  1 0 0 0 0  0 0 0 0 1"/>
<feComponentTransfer><feFuncR type="table" tableValues="0 0 0 0 0 0 0 0 0 0 0 0 0 0 0 0 0 0 0 0 0 0 0 0 0 0 0 0 0 0 0 0 0 0 0 0 0 0 0 0 0 0 0 0 0 0 0 0 0 0 0 0 0 0 0 0 0 0 0 0 0 0 0 0 0 0 0 0 0 0 0 0 0 0 0 0 0 0 0 0 0 0 0 0 0 0 0 0 0 0 0 0 0 0 0 0 0 0 0 0 0 0.000821 0.00251 0.0042 0.00585 0.00757 0.0094 0.0113 0.0132 0.0152 0.0174 0.0198 0.0222 0.0245 0.0271 0.0299 0.0326 0.0354 0.0382 0.041 0.0438 0.0465 0.0492 0.052 0.0547 0.0574 0.0601 0.0622 0.0657 0.0699 0.0725 0.0751 0.0778 0.0806 0.0832 0.0859 0.0887 0.0915 0.0943 0.0971 0.0998 0.103 0.105 0.108 0.11 0.112 0.114 0.116 0.118 0.12 0.122 0.123 0.125 0.127 0.128 0.13 0.131 0.133 0.134 0.136 0.137 0.138 0.14 0.141 0.142 0.143 0.144 0.145 0.146 0.147 0.148 0.149 0.15 0.151 0.152 0.153 0.154 0.154 0.155 0.156 0.156 0.157 0.157 0.158 0.158 0.159 0.159 0.159 0.16 0.16 0.16 0.16 0.16 0.161 0.161 0.161 0.161 0.161 0.161 0.161 0.161 0.161 0.161 0.161 0.161 0.161 0.161 0.161 0.161 0.161 0.161 0.161 0.161 0.161 0.161 0.161 0.161 0.161 0.161 0.161 0.161 0.161 0.161 0.161 0.161 0.161 0.161 0.161 0.161 0.161 0.161 0.161 0.161 0.161 0.161 0.161 0.161 0.161 0.161 0.161 0.161 0.161 0.161 0.161 0.161 0.161 0.161 0.161 0.161 0.161 0.161 0.161 0.161 0.161 0.161 0.161"/><feFuncG type="table" tableValues="0.86 0.86 0.86 0.86 0.86 0.86 0.86 0.86 0.86 0.86 0.86 0.86 0.86 0.86 0.86 0.86 0.86 0.86 0.86 0.86 0.86 0.86 0.86 0.86 0.86 0.86 0.86 0.86 0.86 0.86 0.86 0.86 0.86 0.86 0.86 0.86 0.86 0.86 0.86 0.86 0.86 0.86 0.86 0.86 0.86 0.86 0.86 0.86 0.86 0.86 0.86 0.86 0.86 0.86 0.86 0.86 0.86 0.86 0.86 0.86 0.861 0.861 0.861 0.861 0.861 0.861 0.861 0.862 0.862 0.862 0.863 0.863 0.864 0.864 0.865 0.866 0.866 0.867 0.868 0.869 0.87 0.871 0.872 0.873 0.874 0.875 0.876 0.878 0.879 0.881 0.882 0.883 0.885 0.886 0.888 0.89 0.891 0.893 0.895 0.897 0.899 0.901 0.903 0.905 0.907 0.909 0.912 0.914 0.916 0.919 0.922 0.925 0.927 0.93 0.934 0.937 0.94 0.944 0.947 0.951 0.954 0.958 0.961 0.964 0.968 0.971 0.975 0.977 0.981 0.987 0.99 0.993 0.996 1 1 1 1 1 1 1 1 1 1 1 1 1 1 1 1 1 1 1 1 1 1 1 1 1 1 1 1 1 1 1 1 1 1 1 1 1 1 1 1 1 1 1 1 1 1 1 1 1 1 1 1 1 1 1 1 1 1 1 1 1 1 1 1 1 1 1 1 1 1 1 1 1 1 1 1 1 1 1 1 1 1 1 1 1 1 1 1 1 1 1 1 1 1 1 1 1 1 1 1 1 1 1 1 1 1 1 1 1 1 1 1 1 1 1 1 1 1 1 1 1 1 1"/><feFuncB type="table" tableValues="1 1 1 1 1 1 1 1 1 1 1 1 1 1 1 1 1 1 1 1 1 1 1 1 1 1 1 1 1 1 1 1 1 1 1 1 1 1 1 1 1 1 1 1 1 1 1 1 1 1 1 1 1 1 1 1 1 1 1 1 1 1 0.999 0.999 0.999 0.999 0.999 0.999 0.998 0.998 0.998 0.997 0.997 0.997 0.996 0.996 0.995 0.994 0.994 0.993 0.992 0.991 0.99 0.99 0.989 0.988 0.987 0.986 0.984 0.983 0.982 0.981 0.98 0.979 0.977 0.976 0.975 0.973 0.972 0.97 0.969 0.967 0.965 0.964 0.962 0.96 0.958 0.956 0.954 0.953 0.95 0.948 0.946 0.943 0.941 0.938 0.935 0.932 0.93 0.927 0.924 0.921 0.919 0.916 0.913 0.91 0.908 0.906 0.902 0.898 0.895 0.893 0.89 0.887 0.885 0.882 0.879 0.876 0.873 0.871 0.868 0.865 0.862 0.86 0.858 0.855 0.853 0.851 0.85 0.848 0.846 0.844 0.843 0.841 0.84 0.838 0.837 0.835 0.834 0.832 0.831 0.829 0.828 0.827 0.826 0.825 0.823 0.822 0.821 0.82 0.819 0.818 0.818 0.817 0.816 0.815 0.814 0.813 0.813 0.812 0.811 0.811 0.81 0.81 0.809 0.809 0.809 0.808 0.808 0.808 0.808 0.807 0.807 0.807 0.807 0.807 0.807 0.807 0.807 0.807 0.807 0.807 0.807 0.807 0.807 0.807 0.807 0.807 0.806 0.806 0.806 0.806 0.806 0.806 0.806 0.806 0.806 0.806 0.806 0.806 0.806 0.806 0.806 0.806 0.806 0.806 0.806 0.806 0.806 0.806 0.806 0.806 0.806 0.806 0.806 0.806 0.806 0.806 0.806 0.806 0.806 0.806 0.806 0.806 0.806 0.806 0.806 0.806 0.806 0.806 0.806 0.806 0.806 0.806 0.806 0.806"/></feComponentTransfer>
</filter>
<filter id="f2Oa" x="0" y="0" width="100%" height="100%" color-interpolation-filters="sRGB">
<feTurbulence type="fractalNoise" baseFrequency="1.7" numOctaves="1" seed="3"/>
<feColorMatrix type="matrix" values="1 0 0 0 0  1 0 0 0 0  1 0 0 0 0  0 0 0 0 1"/>
<feComponentTransfer><feFuncR type="table" tableValues="0 0 0 0 0 0 0 0 0 0 0 0 0 0 0 0 0 0 0 0 0 0 0 0 0 0 0 0 0 0 0 0 0 0 0 0 0 0 0 0 0 0 0 0 0 0 0 0 0 0 0 0 0 0 0 0 0 0 0 0 0 0 0 0 0 0 0 0 0 0 0 0 0 0 0 0 0 0 0 0 0 0 0 0 0 0 0 0 0 0 0 0 0 0 0 0 0 0 0 0 0 0 0 0 0 0 0 0 0 0 0 0 0 0 0 0 0 0 0 0 0 0 0 0 0 0 0 0 0 0 0 0 0 0 0 0 0 0 0 0 0 0 0 0 0 0 0 0 0 0 0 0 0 0 0 0 0 0 0 0 0 0 0 0 0 0 0 0 0 0 0 0 0 0 0 0 0 0 0 0 0 0 0 0 0 0 0 0 0 0 0 0 0 0 0 0 0 0 0 0 0 0 0 0 0 0 0 0 0 0 0 0 0 0 0 0 0 0 0 0 0 0 0 0 0 0 0 0 0 0 0 0 0 0 0 0 0 0 0 0 0 0 0 0 0 0 0 0 0 0 0 0 0 0 0 0"/><feFuncG type="table" tableValues="0.38 0.38 0.38 0.38 0.38 0.38 0.38 0.38 0.38 0.38 0.38 0.38 0.38 0.38 0.38 0.38 0.38 0.38 0.38 0.38 0.38 0.38 0.38 0.38 0.38 0.38 0.38 0.38 0.38 0.38 0.38 0.38 0.38 0.38 0.38 0.38 0.38 0.38 0.38 0.38 0.38 0.38 0.38 0.38 0.38 0.38 0.38 0.38 0.38 0.38 0.38 0.38 0.38 0.38 0.38 0.38 0.38 0.38 0.381 0.381 0.381 0.381 0.381 0.381 0.382 0.382 0.382 0.383 0.383 0.384 0.385 0.385 0.386 0.387 0.388 0.389 0.39 0.392 0.393 0.395 0.396 0.398 0.4 0.401 0.403 0.405 0.407 0.41 0.412 0.414 0.417 0.419 0.421 0.424 0.427 0.429 0.432 0.435 0.438 0.442 0.445 0.448 0.452 0.455 0.459 0.462 0.466 0.47 0.474 0.478 0.483 0.488 0.492 0.497 0.503 0.508 0.514 0.52 0.526 0.531 0.537 0.543 0.548 0.554 0.56 0.565 0.571 0.575 0.582 0.591 0.596 0.602 0.607 0.613 0.619 0.624 0.63 0.636 0.642 0.647 0.653 0.659 0.664 0.669 0.674 0.679 0.683 0.687 0.691 0.695 0.698 0.702 0.705 0.708 0.712 0.715 0.718 0.721 0.724 0.727 0.73 0.733 0.735 0.738 0.74 0.743 0.745 0.747 0.749 0.751 0.753 0.755 0.757 0.759 0.761 0.763 0.764 0.766 0.767 0.768 0.77 0.771 0.772 0.773 0.774 0.775 0.776 0.776 0.777 0.777 0.778 0.778 0.778 0.779 0.779 0.779 0.779 0.779 0.779 0.779 0.78 0.78 0.78 0.78 0.78 0.78 0.78 0.78 0.78 0.78 0.78 0.78 0.78 0.78 0.78 0.78 0.78 0.78 0.78 0.78 0.78 0.78 0.78 0.78 0.78 0.78 0.78 0.78 0.78 0.78 0.78 0.78 0.78 0.78 0.78 0.78 0.78 0.78 0.78 0.78 0.78 0.78 0.78 0.78 0.78 0.78 0.78 0.78 0.78 0.78 0.78 0.78 0.78 0.78 0.78 0.78"/><feFuncB type="table" tableValues="1 1 1 1 1 1 1 1 1 1 1 1 1 1 1 1 1 1 1 1 1 1 1 1 1 1 1 1 1 1 1 1 1 1 1 1 1 1 1 1 1 1 1 1 1 1 1 1 1 1 1 1 1 1 1 1 1 1 1 1 1 1 1 1 1 1 1 1 1 1 1 1 1 1 1 1 1 1 1 1 1 1 1 1 1 1 1 1 1 1 1 1 1 1 1 1 1 1 1 1 1 1 1 1 1 1 1 1 1 1 1 1 1 1 1 1 1 1 1 1 1 1 1 1 1 1 1 1 1 1 1 1 1 1 1 1 1 1 1 1 1 1 1 1 1 1 1 1 1 1 1 1 1 1 1 1 1 1 1 1 1 1 1 1 1 1 1 1 1 1 1 1 1 1 1 1 1 1 1 1 1 1 1 1 1 1 1 1 1 1 1 1 1 1 1 1 1 1 1 1 1 1 1 1 1 1 1 1 1 1 1 1 1 1 1 1 1 1 1 1 1 1 1 1 1 1 1 1 1 1 1 1 1 1 1 1 1 1 1 1 1 1 1 1 1 1 1 1 1 1 1 1 1 1 1 1"/></feComponentTransfer>
</filter>
<filter id="f2Od" x="0" y="0" width="100%" height="100%" color-interpolation-filters="sRGB">
<feTurbulence type="fractalNoise" baseFrequency="1.7" numOctaves="1" seed="3"/>
<feColorMatrix type="matrix" values="1 0 0 0 0  1 0 0 0 0  1 0 0 0 0  0 0 0 0 1"/>
<feComponentTransfer><feFuncR type="table" tableValues="0 0 0 0 0 0 0 0 0 0 0 0 0 0 0 0 0 0 0 0 0 0 0 0 0 0 0 0 0 0 0 0 0 0 0 0 0 0 0 0 0 0 0 0 0 0 0 0 0 0 0 0 0 0 0 0 0 0 0 0 0 0 0 0 0 0 0 0 0 0 0 0 0 0 0 0 0 0 0 0 0 0 0 0 0 0 0 0 0 0 0 0 0 0 0 0 0 0 0 0 0 0 0 0 0 0 0 0 0 0 0 0 0 0 0 0 0 0 0 0 0 0 0 0 0 0 0 0 0 0 0 0 0 0 0 0 0 0 0 0 0 0 0 0 0 0 0 0 0 0 0 0 0 0 0 0 0 0 0 0 0 0 0 0 0 0 0 0 0 0 0 0 0 0 0 0 0 0 0 0 0 0 0 0 0 0 0 0 0 0 0 0 0 0 0 0 0 0 0 0 0 0 0 0 0 0 0 0 0 0 0 0 0 0 0 0 0 0 0 0 0 0 0 0 0 0 0 0 0 0 0 0 0 0 0 0 0 0 0 0 0 0 0 0 0 0 0 0 0 0 0 0 0 0 0 0"/><feFuncG type="table" tableValues="0.5 0.5 0.5 0.5 0.5 0.5 0.5 0.5 0.5 0.5 0.5 0.5 0.5 0.5 0.5 0.5 0.5 0.5 0.5 0.5 0.5 0.5 0.5 0.5 0.5 0.5 0.5 0.5 0.5 0.5 0.5 0.5 0.5 0.5 0.5 0.5 0.5 0.5 0.5 0.5 0.5 0.5 0.5 0.5 0.5 0.5 0.5 0.5 0.5 0.5 0.5 0.5 0.5 0.5 0.5 0.5 0.5 0.5 0.501 0.501 0.501 0.501 0.501 0.501 0.502 0.502 0.502 0.503 0.503 0.504 0.504 0.505 0.506 0.506 0.507 0.508 0.509 0.511 0.512 0.513 0.515 0.516 0.518 0.519 0.521 0.523 0.525 0.527 0.529 0.531 0.533 0.535 0.537 0.54 0.542 0.544 0.547 0.55 0.553 0.556 0.558 0.562 0.565 0.568 0.571 0.574 0.577 0.581 0.585 0.588 0.592 0.597 0.601 0.606 0.61 0.616 0.621 0.626 0.631 0.636 0.641 0.646 0.652 0.657 0.662 0.667 0.672 0.676 0.682 0.69 0.695 0.7 0.705 0.71 0.715 0.72 0.725 0.73 0.735 0.741 0.746 0.751 0.756 0.76 0.765 0.769 0.773 0.776 0.78 0.783 0.787 0.79 0.793 0.796 0.799 0.801 0.804 0.807 0.81 0.812 0.815 0.817 0.82 0.822 0.824 0.826 0.828 0.83 0.832 0.834 0.836 0.838 0.839 0.841 0.843 0.844 0.846 0.847 0.848 0.85 0.851 0.852 0.853 0.854 0.854 0.855 0.856 0.857 0.857 0.858 0.858 0.858 0.858 0.859 0.859 0.859 0.859 0.859 0.859 0.86 0.86 0.86 0.86 0.86 0.86 0.86 0.86 0.86 0.86 0.86 0.86 0.86 0.86 0.86 0.86 0.86 0.86 0.86 0.86 0.86 0.86 0.86 0.86 0.86 0.86 0.86 0.86 0.86 0.86 0.86 0.86 0.86 0.86 0.86 0.86 0.86 0.86 0.86 0.86 0.86 0.86 0.86 0.86 0.86 0.86 0.86 0.86 0.86 0.86 0.86 0.86 0.86 0.86 0.86 0.86 0.86"/><feFuncB type="table" tableValues="1 1 1 1 1 1 1 1 1 1 1 1 1 1 1 1 1 1 1 1 1 1 1 1 1 1 1 1 1 1 1 1 1 1 1 1 1 1 1 1 1 1 1 1 1 1 1 1 1 1 1 1 1 1 1 1 1 1 1 1 1 1 1 1 1 1 1 1 1 1 1 1 1 1 1 1 1 1 1 1 1 1 1 1 1 1 1 1 1 1 1 1 1 1 1 1 1 1 1 1 1 1 1 1 1 1 1 1 1 1 1 1 1 1 1 1 1 1 1 1 1 1 1 1 1 1 1 1 1 1 1 1 1 1 1 1 1 1 1 1 1 1 1 1 1 1 1 1 1 1 1 1 1 1 1 1 1 1 1 1 1 1 1 1 1 1 1 1 1 1 1 1 1 1 1 1 1 1 1 1 1 1 1 1 1 1 1 1 1 1 1 1 1 1 1 1 1 1 1 1 1 1 1 1 1 1 1 1 1 1 1 1 1 1 1 1 1 1 1 1 1 1 1 1 1 1 1 1 1 1 1 1 1 1 1 1 1 1 1 1 1 1 1 1 1 1 1 1 1 1 1 1 1 1 1 1"/></feComponentTransfer>
</filter>
<filter id="f2Ob" x="0" y="0" width="100%" height="100%" color-interpolation-filters="sRGB">
<feTurbulence type="fractalNoise" baseFrequency="1.7" numOctaves="1" seed="3"/>
<feColorMatrix type="matrix" values="1 0 0 0 0  1 0 0 0 0  1 0 0 0 0  0 0 0 0 1"/>
<feComponentTransfer><feFuncR type="table" tableValues="0 0 0 0 0 0 0 0 0 0 0 0 0 0 0 0 0 0 0 0 0 0 0 0 0 0 0 0 0 0 0 0 0 0 0 0 0 0 0 0 0 0 0 0 0 0 0 0 0 0 0 0 0 0 0 0 0 0 0 0 0 0 0 0 0 0 0 0 0 0 0 0 0 0 0 0 0 0 0 0 0 0 0 0 0 0 0 0 0 0 0 0 0 0 0 0 0 0 0 0 0 0 0 0 0 0 0 0 0 0 0 0 0 0 0 0 0 0 0 0 0 0 0 0 0 0 0 0 0 0 0 0 0 0 0 0 0 0.00367 0.00743 0.0112 0.0149 0.0185 0.0221 0.0254 0.0286 0.0316 0.0343 0.0369 0.0393 0.0418 0.0442 0.0464 0.0485 0.0506 0.0527 0.0547 0.0567 0.0587 0.0606 0.0625 0.0644 0.0662 0.068 0.0696 0.0711 0.0726 0.0741 0.0755 0.0769 0.0782 0.0795 0.0807 0.082 0.0832 0.0844 0.0855 0.0865 0.0875 0.0884 0.0893 0.0901 0.0909 0.0916 0.0922 0.0928 0.0934 0.0939 0.0943 0.0947 0.095 0.0953 0.0955 0.0957 0.0958 0.096 0.0961 0.0962 0.0963 0.0964 0.0964 0.0965 0.0965 0.0966 0.0966 0.0966 0.0967 0.0967 0.0967 0.0967 0.0967 0.0967 0.0968 0.0968 0.0968 0.0968 0.0968 0.0968 0.0968 0.0968 0.0968 0.0968 0.0968 0.0968 0.0968 0.0968 0.0968 0.0968 0.0968 0.0968 0.0968 0.0968 0.0968 0.0968 0.0968 0.0968 0.0968 0.0968 0.0968 0.0968 0.0968 0.0968 0.0968 0.0968 0.0968 0.0968 0.0968 0.0968 0.0968 0.0968 0.0968 0.0968 0.0968 0.0968 0.0968 0.0968 0.0968"/><feFuncG type="table" tableValues="0.7 0.7 0.7 0.7 0.7 0.7 0.7 0.7 0.7 0.7 0.7 0.7 0.7 0.7 0.7 0.7 0.7 0.7 0.7 0.7 0.7 0.7 0.7 0.7 0.7 0.7 0.7 0.7 0.7 0.7 0.7 0.7 0.7 0.7 0.7 0.7 0.7 0.7 0.7 0.7 0.7 0.7 0.7 0.7 0.7 0.7 0.7 0.7 0.7 0.7 0.7 0.7 0.7 0.7 0.7 0.7 0.7 0.7 0.7 0.701 0.701 0.701 0.701 0.701 0.701 0.702 0.702 0.702 0.703 0.703 0.704 0.704 0.705 0.706 0.707 0.707 0.708 0.709 0.711 0.712 0.713 0.714 0.716 0.717 0.719 0.72 0.722 0.724 0.726 0.727 0.729 0.731 0.733 0.735 0.737 0.739 0.742 0.744 0.747 0.749 0.752 0.755 0.757 0.76 0.763 0.766 0.769 0.772 0.775 0.778 0.782 0.786 0.79 0.794 0.798 0.803 0.807 0.812 0.817 0.821 0.826 0.83 0.835 0.839 0.844 0.848 0.853 0.856 0.862 0.869 0.873 0.877 0.882 0.887 0.891 0.895 0.9 0.905 0.909 0.914 0.918 0.923 0.927 0.932 0.935 0.939 0.943 0.946 0.949 0.952 0.955 0.957 0.96 0.963 0.965 0.968 0.97 0.973 0.975 0.978 0.98 0.982 0.984 0.986 0.988 0.99 0.992 0.994 0.995 0.997 0.999 1 1 1 1 1 1 1 1 1 1 1 1 1 1 1 1 1 1 1 1 1 1 1 1 1 1 1 1 1 1 1 1 1 1 1 1 1 1 1 1 1 1 1 1 1 1 1 1 1 1 1 1 1 1 1 1 1 1 1 1 1 1 1 1 1 1 1 1 1 1 1 1 1 1 1 1 1 1 1 1 1 1 1 1 1"/><feFuncB type="table" tableValues="1 1 1 1 1 1 1 1 1 1 1 1 1 1 1 1 1 1 1 1 1 1 1 1 1 1 1 1 1 1 1 1 1 1 1 1 1 1 1 1 1 1 1 1 1 1 1 1 1 1 1 1 1 1 1 1 1 1 1 1 1 1 1 1 1 1 1 1 1 1 1 1 1 1 1 1 1 1 1 1 1 1 1 1 1 1 1 1 1 1 1 1 1 1 1 1 1 1 1 1 1 1 1 1 1 1 1 1 1 1 1 1 1 1 1 1 1 1 1 1 1 1 1 1 1 1 1 1 0.998 0.993 0.989 0.986 0.982 0.979 0.975 0.971 0.968 0.964 0.96 0.957 0.953 0.949 0.946 0.942 0.939 0.936 0.933 0.931 0.928 0.926 0.924 0.921 0.919 0.917 0.915 0.913 0.911 0.909 0.907 0.905 0.903 0.902 0.9 0.898 0.897 0.895 0.894 0.892 0.891 0.889 0.888 0.887 0.886 0.885 0.883 0.882 0.881 0.88 0.879 0.878 0.878 0.877 0.876 0.876 0.875 0.874 0.874 0.873 0.873 0.873 0.872 0.872 0.872 0.872 0.872 0.872 0.872 0.871 0.871 0.871 0.871 0.871 0.871 0.871 0.871 0.871 0.871 0.871 0.871 0.871 0.871 0.871 0.871 0.871 0.871 0.871 0.871 0.871 0.871 0.871 0.871 0.871 0.871 0.871 0.871 0.871 0.871 0.871 0.871 0.871 0.871 0.871 0.871 0.871 0.871 0.871 0.871 0.871 0.871 0.871 0.871 0.871 0.871 0.871 0.871 0.871 0.871 0.871 0.871 0.871 0.871 0.871 0.871 0.871 0.871 0.871"/></feComponentTransfer>
</filter>
<filter id="f2Oc" x="0" y="0" width="100%" height="100%" color-interpolation-filters="sRGB">
<feTurbulence type="fractalNoise" baseFrequency="1.7" numOctaves="1" seed="3"/>
<feColorMatrix type="matrix" values="1 0 0 0 0  1 0 0 0 0  1 0 0 0 0  0 0 0 0 1"/>
<feComponentTransfer><feFuncR type="table" tableValues="0.0968 0.0968 0.0968 0.0968 0.0968 0.0968 0.0968 0.0968 0.0968 0.0968 0.0968 0.0968 0.0968 0.0968 0.0968 0.0968 0.0968 0.0968 0.0968 0.0968 0.0968 0.0968 0.0968 0.0968 0.0968 0.0968 0.0968 0.0968 0.0968 0.0968 0.0968 0.0968 0.0968 0.0968 0.0968 0.0968 0.0968 0.0968 0.0968 0.0968 0.0968 0.0968 0.0968 0.0968 0.0968 0.0968 0.0968 0.0968 0.0968 0.0968 0.0968 0.0969 0.0969 0.0969 0.097 0.097 0.097 0.0971 0.0972 0.0972 0.0973 0.0974 0.0976 0.0977 0.0979 0.0981 0.0983 0.0986 0.0989 0.0993 0.0998 0.1 0.101 0.101 0.102 0.103 0.104 0.104 0.105 0.106 0.107 0.108 0.109 0.111 0.112 0.113 0.114 0.116 0.117 0.119 0.12 0.122 0.124 0.125 0.127 0.129 0.131 0.133 0.135 0.137 0.139 0.141 0.143 0.145 0.148 0.15 0.152 0.155 0.157 0.16 0.163 0.166 0.169 0.173 0.176 0.18 0.183 0.187 0.191 0.194 0.198 0.202 0.205 0.209 0.213 0.216 0.22 0.223 0.227 0.233 0.236 0.24 0.244 0.247 0.251 0.254 0.258 0.262 0.265 0.269 0.273 0.277 0.28 0.284 0.287 0.29 0.292 0.295 0.297 0.3 0.302 0.304 0.307 0.309 0.311 0.313 0.315 0.317 0.319 0.321 0.322 0.324 0.326 0.328 0.329 0.331 0.332 0.334 0.335 0.336 0.338 0.339 0.34 0.341 0.342 0.344 0.345 0.346 0.346 0.347 0.348 0.349 0.35 0.35 0.351 0.351 0.352 0.352 0.353 0.353 0.353 0.354 0.354 0.354 0.354 0.354 0.354 0.354 0.354 0.354 0.355 0.355 0.355 0.355 0.355 0.355 0.355 0.355 0.355 0.355 0.355 0.355 0.355 0.355 0.355 0.355 0.355 0.355 0.355 0.355 0.355 0.355 0.355 0.355 0.355 0.355 0.355 0.355 0.355 0.355 0.355 0.355 0.355 0.355 0.355 0.355 0.355 0.355 0.355 0.355 0.355 0.355 0.355 0.355 0.355 0.355 0.355 0.355 0.355 0.355 0.355 0.355 0.355 0.355 0.355 0.355"/><feFuncG type="table" tableValues="1 1 1 1 1 1 1 1 1 1 1 1 1 1 1 1 1 1 1 1 1 1 1 1 1 1 1 1 1 1 1 1 1 1 1 1 1 1 1 1 1 1 1 1 1 1 1 1 1 1 1 1 1 1 1 1 1 1 1 1 1 1 1 1 1 1 1 1 1 1 1 1 1 1 1 1 1 1 1 1 1 1 1 1 1 1 1 1 1 1 1 1 1 1 1 1 1 1 1 1 1 1 1 1 1 1 1 1 1 1 1 1 1 1 1 1 1 1 1 1 1 1 1 1 1 1 1 1 1 1 1 1 1 1 1 1 1 1 1 1 1 1 1 1 1 1 1 1 1 1 1 1 1 1 1 1 1 1 1 1 1 1 1 1 1 1 1 1 1 1 1 1 1 1 1 1 1 1 1 1 1 1 1 1 1 1 1 1 1 1 1 1 1 1 1 1 1 1 1 1 1 1 1 1 1 1 1 1 1 1 1 1 1 1 1 1 1 1 1 1 1 1 1 1 1 1 1 1 1 1 1 1 1 1 1 1 1 1 1 1 1 1 1 1 1 1 1 1 1 1 1 1 1 1 1 1"/><feFuncB type="table" tableValues="0.871 0.871 0.871 0.871 0.871 0.871 0.871 0.871 0.871 0.871 0.871 0.871 0.871 0.871 0.871 0.871 0.871 0.871 0.871 0.871 0.871 0.871 0.871 0.871 0.871 0.871 0.871 0.871 0.871 0.871 0.871 0.871 0.871 0.871 0.871 0.871 0.871 0.871 0.871 0.871 0.871 0.871 0.871 0.871 0.871 0.871 0.871 0.871 0.871 0.871 0.871 0.871 0.871 0.871 0.871 0.871 0.871 0.871 0.871 0.871 0.87 0.87 0.87 0.87 0.87 0.87 0.869 0.869 0.869 0.868 0.868 0.867 0.867 0.866 0.866 0.865 0.864 0.863 0.862 0.862 0.861 0.859 0.858 0.857 0.856 0.855 0.853 0.852 0.85 0.849 0.847 0.846 0.844 0.843 0.841 0.839 0.837 0.835 0.833 0.831 0.829 0.827 0.825 0.822 0.82 0.818 0.815 0.813 0.81 0.808 0.805 0.802 0.798 0.795 0.792 0.788 0.784 0.781 0.777 0.773 0.77 0.766 0.762 0.759 0.755 0.751 0.748 0.745 0.74 0.735 0.731 0.728 0.724 0.721 0.717 0.713 0.71 0.706 0.702 0.698 0.695 0.691 0.688 0.684 0.681 0.678 0.675 0.673 0.67 0.668 0.666 0.663 0.661 0.659 0.657 0.655 0.653 0.651 0.649 0.647 0.645 0.643 0.642 0.64 0.639 0.637 0.636 0.634 0.633 0.631 0.63 0.629 0.628 0.626 0.625 0.624 0.623 0.622 0.621 0.62 0.62 0.619 0.618 0.617 0.617 0.616 0.616 0.615 0.615 0.615 0.614 0.614 0.614 0.614 0.614 0.614 0.613 0.613 0.613 0.613 0.613 0.613 0.613 0.613 0.613 0.613 0.613 0.613 0.613 0.613 0.613 0.613 0.613 0.613 0.613 0.613 0.613 0.613 0.613 0.613 0.613 0.613 0.613 0.613 0.613 0.613 0.613 0.613 0.613 0.613 0.613 0.613 0.613 0.613 0.613 0.613 0.613 0.613 0.613 0.613 0.613 0.613 0.613 0.613 0.613 0.613 0.613 0.613 0.613 0.613 0.613 0.613 0.613 0.613 0.613 0.613"/></feComponentTransfer>
</filter>
<filter id="f1F" x="0" y="0" width="100%" height="100%" color-interpolation-filters="sRGB">
<feTurbulence type="fractalNoise" baseFrequency="0.13 0.5" numOctaves="1" seed="5"/>
<feColorMatrix type="matrix" values="1 0 0 0 0  1 0 0 0 0  1 0 0 0 0  0 0 0 0 1"/>
<feComponentTransfer><feFuncR type="table" tableValues="0 0 0 0 0 0 0 0 0 0 0 0 0 0 0 0 0 0 0 0 0 0 0 0 0 0 0 0 0 0 0 0 0 0 0 0 0 0 0 0 0 0 0 0 0 0 0 0 0 0 0 0 0 0 0 0 0 0 0 0 0 0 0 0 0 0 0 0 0 0 0 0 0 0 0 0 0 0 0 0 0 0 0 0 0 0 0 0 0 0 0 0 0 0 0 0 0 0 0 0 0 0 0 0 0.0258 0.0779 0.133 0.191 0.25 0.309 0.376 0.448 0.52 0.592 0.67 0.753 0.838 0.922 1 1 1 1 1 1 1 1 1 1 0.862 0.684 0.573 1 1 1 1 1 1 1 1 1 1 1 1 1 1 1 1 1 1 1 1 1 1 1 1 1 1 1 1 1 1 1 1 1 1 1 1 1 1 1 1 1 1 1 1 1 1 1 1 1 1 1 1 1 1 1 1 1 1 1 1 1 1 1 1 1 1 1 1 1 1 1 1 1 1 1 1 1 1 1 1 1 1 1 1 1 1 1 1 1 1 1 1 1 1 1 1 1 1 1 1 1 1 1 1 1 1 1 1 1 1 1 1 1 1 1 1 1 1 1 1 1 1 1 1 1"/><feFuncG type="table" tableValues="0 0 0 0 0 0 0 0 0 0 0 0 0 0 0 0 0 0 0 0 0 0 0 0 0 0 0 0 0 0 0 0 0 0 0 0 0 0 0 0 0 0 0 0 0 0 0 0 0 0 0 0 0 0 0 0 0 0 0 0 0 0 0 0 0 0 0 0 0 0 0 0 0 0 0 0 0 0 0 0 0 0 0 0 0 0 0 0.041 0.0826 0.124 0.167 0.21 0.254 0.299 0.346 0.397 0.452 0.508 0.563 0.621 0.682 0.743 0.806 0.87 0.932 0.997 1 1 1 1 1 1 1 1 1 1 1 1 0.919 0.822 0.726 0.63 0.535 0.439 0.343 0.251 0.157 0.0842 0 0 0 0.625 0.611 0.597 0.583 0.57 0.556 0.542 0.527 0.513 0.499 0.485 0.471 0.458 0.446 0.435 0.424 0.415 0.405 0.395 0.387 0.378 0.37 0.362 0.354 0.346 0.339 0.331 0.324 0.316 0.309 0.302 0.295 0.289 0.283 0.278 0.272 0.267 0.261 0.256 0.251 0.247 0.242 0.237 0.233 0.228 0.224 0.221 0.217 0.214 0.211 0.208 0.205 0.203 0.2 0.198 0.196 0.195 0.193 0.192 0.191 0.19 0.189 0.189 0.188 0.188 0.187 0.187 0.187 0.187 0.186 0.186 0.186 0.186 0.186 0.186 0.186 0.185 0.185 0.185 0.185 0.185 0.185 0.185 0.185 0.185 0.185 0.185 0.185 0.185 0.185 0.185 0.185 0.185 0.185 0.185 0.185 0.185 0.185 0.185 0.185 0.185 0.185 0.185 0.185 0.185 0.185 0.185 0.185 0.185 0.185 0.185 0.185 0.185 0.185 0.185 0.185 0.185 0.185 0.185 0.185 0.185 0.185 0.185 0.185 0.185"/><feFuncB type="table" tableValues="0.5 0.5 0.5 0.5 0.5 0.5 0.5 0.5 0.5 0.5 0.5 0.5 0.5 0.5 0.5 0.5 0.5 0.5 0.5 0.5 0.5 0.5 0.5 0.5 0.5 0.5 0.5 0.5 0.5 0.5 0.5 0.5 0.5 0.5 0.5 0.5 0.5 0.5 0.5 0.5 0.5 0.5 0.5 0.5 0.5 0.501 0.501 0.501 0.501 0.502 0.502 0.503 0.504 0.505 0.506 0.507 0.508 0.51 0.512 0.515 0.518 0.521 0.525 0.529 0.535 0.541 0.549 0.558 0.57 0.582 0.596 0.612 0.63 0.649 0.669 0.691 0.716 0.743 0.772 0.802 0.833 0.868 0.906 0.943 0.985 1 1 1 1 1 1 1 1 1 1 1 1 1 1 1 1 1 1 0.992 0.942 0.89 0.834 0.776 0.718 0.659 0.591 0.52 0.448 0.375 0.298 0.215 0.13 0.0455 0 0 0 0 0 0 0 0 0 0 0 0 0 0 0 0 0 0 0 0 0 0 0 0 0 0 0 0 0 0 0 0 0 0 0 0 0 0 0 0 0 0 0 0 0 0 0 0 0 0 0 0 0 0 0 0 0 0 0 0 0 0 0 0 0 0 0 0 0 0 0 0 0 0 0 0 0 0 0 0 0 0 0 0 0 0 0 0 0 0 0 0 0 0 0 0 0 0 0 0 0 0 0 0 0 0 0 0 0 0 0 0 0 0 0 0 0 0 0 0 0 0 0 0 0 0 0 0 0 0 0 0 0 0 0 0 0 0"/></feComponentTransfer>
</filter>
<filter id="f2F" x="0" y="0" width="100%" height="100%" color-interpolation-filters="sRGB">
<feTurbulence type="fractalNoise" baseFrequency="0.13 0.5" numOctaves="1" seed="5"/>
<feColorMatrix type="matrix" values="1 0 0 0 0  1 0 0 0 0  1 0 0 0 0  0 0 0 0 1"/>
<feComponentTransfer><feFuncR type="table" tableValues="0 0 0 0 0 0 0 0 0 0 0 0 0 0 0 0 0 0 0 0 0 0 0 0 0 0 0 0 0 0 0 0 0 0 0 0 0 0 0 0 0 0 0 0 0 0 0 0 0 0 0 0 0 0 0 0 0 0 0 0 0 0 0 0 0 0 0 0 0 0 0 0 0 0 0 0 0 0 0 0 0 0 0 0 0 0 0 0 0 0 0 0 0 0 0 0 0 0 0 0 0 0 0 0 0.0258 0.0779 0.133 0.191 0.25 0.309 0.376 0.448 0.52 0.592 0.67 0.753 0.838 0.922 1 1 1 1 1 1 1 1 1 1 0.862 0.684 0.573 0 0 0 0 0 0 0 0 0 0 0 0 0 0 0.00843 0.0176 0.0261 0.0344 0.0427 0.0505 0.0578 0.0649 0.072 0.0789 0.0855 0.0922 0.0987 0.105 0.112 0.118 0.124 0.13 0.135 0.14 0.145 0.15 0.155 0.159 0.164 0.168 0.172 0.177 0.181 0.185 0.188 0.192 0.195 0.198 0.201 0.204 0.206 0.208 0.211 0.213 0.214 0.216 0.218 0.219 0.22 0.221 0.222 0.222 0.223 0.223 0.224 0.224 0.224 0.224 0.225 0.225 0.225 0.225 0.225 0.225 0.225 0.226 0.226 0.226 0.226 0.226 0.226 0.226 0.226 0.226 0.226 0.226 0.226 0.226 0.226 0.226 0.226 0.226 0.226 0.226 0.226 0.226 0.226 0.226 0.226 0.226 0.226 0.226 0.226 0.226 0.226 0.226 0.226 0.226 0.226 0.226 0.226 0.226 0.226 0.226 0.226 0.226 0.226 0.226 0.226 0.226 0.226 0.226 0.226 0.226 0.226"/><feFuncG type="table" tableValues="0 0 0 0 0 0 0 0 0 0 0 0 0 0 0 0 0 0 0 0 0 0 0 0 0 0 0 0 0 0 0 0 0 0 0 0 0 0 0 0 0 0 0 0 0 0 0 0 0 0 0 0 0 0 0 0 0 0 0 0 0 0 0 0 0 0 0 0 0 0 0 0 0 0 0 0 0 0 0 0 0 0 0 0 0 0 0 0.041 0.0826 0.124 0.167 0.21 0.254 0.299 0.346 0.397 0.452 0.508 0.563 0.621 0.682 0.743 0.806 0.87 0.932 0.997 1 1 1 1 1 1 1 1 1 1 1 1 0.919 0.822 0.726 0.63 0.535 0.439 0.343 0.251 0.157 0.0842 0 0 0 0.705 0.72 0.735 0.75 0.765 0.78 0.795 0.811 0.826 0.841 0.856 0.871 0.885 0.898 0.91 0.922 0.932 0.943 0.953 0.963 0.972 0.98 0.989 0.998 1 1 1 1 1 1 1 1 1 1 1 1 1 1 1 1 1 1 1 1 1 1 1 1 1 1 1 1 1 1 1 1 1 1 1 1 1 1 1 1 1 1 1 1 1 1 1 1 1 1 1 1 1 1 1 1 1 1 1 1 1 1 1 1 1 1 1 1 1 1 1 1 1 1 1 1 1 1 1 1 1 1 1 1 1 1 1 1 1 1 1 1 1 1 1 1 1 1 1 1 1"/><feFuncB type="table" tableValues="0.5 0.5 0.5 0.5 0.5 0.5 0.5 0.5 0.5 0.5 0.5 0.5 0.5 0.5 0.5 0.5 0.5 0.5 0.5 0.5 0.5 0.5 0.5 0.5 0.5 0.5 0.5 0.5 0.5 0.5 0.5 0.5 0.5 0.5 0.5 0.5 0.5 0.5 0.5 0.5 0.5 0.5 0.5 0.5 0.5 0.501 0.501 0.501 0.501 0.502 0.502 0.503 0.504 0.505 0.506 0.507 0.508 0.51 0.512 0.515 0.518 0.521 0.525 0.529 0.535 0.541 0.549 0.558 0.57 0.582 0.596 0.612 0.63 0.649 0.669 0.691 0.716 0.743 0.772 0.802 0.833 0.868 0.906 0.943 0.985 1 1 1 1 1 1 1 1 1 1 1 1 1 1 1 1 1 1 0.992 0.942 0.89 0.834 0.776 0.718 0.659 0.591 0.52 0.448 0.375 0.298 0.215 0.13 0.0455 0 0 0 0 0 0 0 0 0 0 0 0 0 1 1 1 1 1 1 1 1 1 1 1 0.991 0.98 0.969 0.959 0.95 0.942 0.933 0.925 0.917 0.91 0.903 0.896 0.889 0.882 0.876 0.869 0.863 0.856 0.85 0.844 0.838 0.833 0.827 0.822 0.817 0.813 0.808 0.804 0.8 0.795 0.791 0.787 0.783 0.78 0.776 0.773 0.77 0.767 0.764 0.762 0.759 0.757 0.755 0.753 0.752 0.75 0.749 0.748 0.747 0.746 0.746 0.745 0.745 0.744 0.744 0.744 0.743 0.743 0.743 0.743 0.743 0.742 0.742 0.742 0.742 0.742 0.742 0.742 0.742 0.742 0.742 0.742 0.742 0.742 0.742 0.742 0.742 0.742 0.742 0.742 0.742 0.742 0.742 0.742 0.742 0.742 0.742 0.742 0.742 0.742 0.742 0.742 0.742 0.742 0.742 0.742 0.742 0.742 0.742 0.742 0.742 0.742 0.742 0.742 0.742 0.742 0.742 0.742 0.742 0.742 0.742 0.742 0.742 0.742"/></feComponentTransfer>
</filter>
<linearGradient id="cb" x1="0" y1="0" x2="0" y2="1"><stop offset="0.0000" stop-color="rgb(128,0,0)"/><stop offset="0.0156" stop-color="rgb(146,0,0)"/><stop offset="0.0312" stop-color="rgb(164,0,0)"/><stop offset="0.0469" stop-color="rgb(182,0,0)"/><stop offset="0.0625" stop-color="rgb(200,0,0)"/><stop offset="0.0781" stop-color="rgb(218,0,0)"/><stop offset="0.0938" stop-color="rgb(236,4,0)"/><stop offset="0.1094" stop-color="rgb(254,18,0)"/><stop offset="0.1250" stop-color="rgb(255,33,0)"/><stop offset="0.1406" stop-color="rgb(255,48,0)"/><stop offset="0.1562" stop-color="rgb(255,63,0)"/><stop offset="0.1719" stop-color="rgb(255,77,0)"/><stop offset="0.1875" stop-color="rgb(255,92,0)"/><stop offset="0.2031" stop-color="rgb(255,107,0)"/><stop offset="0.2188" stop-color="rgb(255,122,0)"/><stop offset="0.2344" stop-color="rgb(255,136,0)"/><stop offset="0.2500" stop-color="rgb(255,151,0)"/><stop offset="0.2656" stop-color="rgb(255,166,0)"/><stop offset="0.2812" stop-color="rgb(255,181,0)"/><stop offset="0.2969" stop-color="rgb(255,195,0)"/><stop offset="0.3125" stop-color="rgb(255,210,0)"/><stop offset="0.3281" stop-color="rgb(255,225,0)"/><stop offset="0.3438" stop-color="rgb(252,240,0)"/><stop offset="0.3594" stop-color="rgb(239,254,8)"/><stop offset="0.3750" stop-color="rgb(226,255,21)"/><stop offset="0.3906" stop-color="rgb(213,255,33)"/><stop offset="0.4062" stop-color="rgb(201,255,46)"/><stop offset="0.4219" stop-color="rgb(188,255,59)"/><stop offset="0.4375" stop-color="rgb(175,255,72)"/><stop offset="0.4531" stop-color="rgb(162,255,85)"/><stop offset="0.4688" stop-color="rgb(149,255,98)"/><stop offset="0.4844" stop-color="rgb(136,255,111)"/><stop offset="0.5000" stop-color="rgb(123,255,123)"/><stop offset="0.5156" stop-color="rgb(111,255,136)"/><stop offset="0.5312" stop-color="rgb(98,255,149)"/><stop offset="0.5469" stop-color="rgb(85,255,162)"/><stop offset="0.5625" stop-color="rgb(72,255,175)"/><stop offset="0.5781" stop-color="rgb(59,255,188)"/><stop offset="0.5938" stop-color="rgb(46,255,201)"/><stop offset="0.6094" stop-color="rgb(33,255,213)"/><stop offset="0.6250" stop-color="rgb(21,255,226)"/><stop offset="0.6406" stop-color="rgb(8,239,239)"/><stop offset="0.6562" stop-color="rgb(0,223,252)"/><stop offset="0.6719" stop-color="rgb(0,207,255)"/><stop offset="0.6875" stop-color="rgb(0,191,255)"/><stop offset="0.7031" stop-color="rgb(0,175,255)"/><stop offset="0.7188" stop-color="rgb(0,159,255)"/><stop offset="0.7344" stop-color="rgb(0,143,255)"/><stop offset="0.7500" stop-color="rgb(0,128,255)"/><stop offset="0.7656" stop-color="rgb(0,112,255)"/><stop offset="0.7812" stop-color="rgb(0,96,255)"/><stop offset="0.7969" stop-color="rgb(0,80,255)"/><stop offset="0.8125" stop-color="rgb(0,64,255)"/><stop offset="0.8281" stop-color="rgb(0,48,255)"/><stop offset="0.8438" stop-color="rgb(0,32,255)"/><stop offset="0.8594" stop-color="rgb(0,16,255)"/><stop offset="0.8750" stop-color="rgb(0,0,255)"/><stop offset="0.8906" stop-color="rgb(0,0,254)"/><stop offset="0.9062" stop-color="rgb(0,0,236)"/><stop offset="0.9219" stop-color="rgb(0,0,218)"/><stop offset="0.9375" stop-color="rgb(0,0,200)"/><stop offset="0.9531" stop-color="rgb(0,0,182)"/><stop offset="0.9688" stop-color="rgb(0,0,164)"/><stop offset="0.9844" stop-color="rgb(0,0,146)"/><stop offset="1.0000" stop-color="rgb(0,0,128)"/></linearGradient></defs>
<rect width="1050" height="800" fill="#fff"/>
<rect x="132" y="81" width="176" height="639" fill="#707a6e" filter="url(#fu)"/>
<rect x="132" y="81" width="176" height="12" fill="#fff"/>
<rect x="132" y="94" width="176" height="1" fill="#000"/>
<rect x="132" y="95" width="176" height="5" fill="#fff"/>
<rect x="132" y="100" width="176" height="5" fill="#e8601a" filter="url(#f1T)"/>
<rect x="132" y="105" width="176" height="1" fill="#000" opacity="0.93"/>
<rect x="132" y="106" width="176" height="4" fill="#e8601a" filter="url(#f1T)"/>
<rect x="132" y="110" width="176" height="2" fill="#000"/>
<rect x="132" y="112" width="176" height="2" fill="#fff"/>
<rect x="132" y="114" width="176" height="1" fill="#000"/>
<rect x="132" y="115" width="176" height="2" fill="#fff"/>
<rect x="132" y="117" width="176" height="1" fill="#e8601a" filter="url(#f1L)"/>
<rect x="132" y="118" width="176" height="1" fill="#fff"/>
<rect x="132" y="119" width="176" height="4" fill="#e8601a" filter="url(#f1T)"/>
<rect x="132" y="123" width="176" height="1" fill="#fff"/>
<rect x="132" y="124" width="176" height="3" fill="#e8601a" filter="url(#f1T)"/>
<rect x="132" y="127" width="176" height="2" fill="#fff"/>
<rect x="132" y="129" width="176" height="1" fill="#ddd" filter="url(#fS)"/>
<rect x="132" y="130" width="176" height="2" fill="#fff"/>
<rect x="132" y="132" width="176" height="1" fill="#000"/>
<rect x="132" y="134" width="176" height="2" fill="#000"/>
<rect x="132" y="136" width="176" height="103" fill="#fff"/>
<rect x="132" y="239" width="176" height="2" fill="#000"/>
<rect x="132" y="241" width="176" height="6" fill="#fff"/>
<rect x="132" y="247" width="176" height="1" fill="#000"/>
<rect x="132" y="248" width="176" height="112" fill="#fff"/>
<rect x="132" y="362" width="176" height="2" fill="#fff"/>
<rect x="132" y="368" width="176" height="2" fill="#fff"/>
<rect x="132" y="371" width="176" height="1" fill="#fff"/>
<rect x="132" y="379" width="176" height="1" fill="#fff"/>
<rect x="132" y="382" width="176" height="5" fill="#fff"/>
<rect x="132" y="389" width="176" height="1" fill="#000" opacity="0.93"/>
<rect x="132" y="393" width="176" height="1" fill="#000"/>
<rect x="132" y="396" width="176" height="1" fill="#000"/>
<rect x="132" y="397" width="176" height="1" fill="#fff"/>
<rect x="132" y="398" width="176" height="1" fill="#000" opacity="0.6"/>
<rect x="132" y="416" width="176" height="1" fill="#000"/>
<rect x="132" y="419" width="176" height="1" fill="#000" opacity="0.93"/>
<rect x="132" y="424" width="176" height="1" fill="#000" opacity="0.93"/>
<rect x="132" y="427" width="176" height="2" fill="#000"/>
<rect x="132" y="429" width="176" height="6" fill="#e8601a" filter="url(#f1O)"/>
<rect x="244" y="429" width="53" height="6" fill="#e8601a" filter="url(#f1F)"/>
<rect x="132" y="435" width="176" height="1" fill="#fff"/>
<rect x="132" y="441" width="176" height="1" fill="#000"/>
<rect x="132" y="443" width="176" height="1" fill="#000"/>
<rect x="132" y="445" width="176" height="1" fill="#000" opacity="0.93"/>
<rect x="132" y="448" width="176" height="1" fill="#000"/>
<rect x="132" y="450" width="176" height="1" fill="#000"/>
<rect x="132" y="452" width="176" height="1" fill="#000"/>
<rect x="132" y="454" width="176" height="1" fill="#000"/>
<rect x="132" y="459" width="176" height="1" fill="#000"/>
<rect x="132" y="462" width="176" height="1" fill="#fff"/>
<rect x="132" y="466" width="176" height="1" fill="#000"/>
<rect x="132" y="468" width="176" height="2" fill="#000"/>
<rect x="132" y="472" width="176" height="2" fill="#000"/>
<rect x="132" y="475" width="176" height="1" fill="#000" opacity="0.93"/>
<rect x="132" y="477" width="176" height="1" fill="#000" opacity="0.93"/>
<rect x="132" y="481" width="176" height="3" fill="#000"/>
<rect x="132" y="485" width="176" height="2" fill="#000"/>
<rect x="132" y="489" width="176" height="1" fill="#000" opacity="0.93"/>
<rect x="132" y="491" width="176" height="1" fill="#000" opacity="0.93"/>
<rect x="132" y="492" width="176" height="1" fill="#fff"/>
<rect x="132" y="493" width="176" height="2" fill="#000"/>
<rect x="132" y="500" width="176" height="1" fill="#000"/>
<rect x="132" y="502" width="176" height="2" fill="#000"/>
<rect x="132" y="507" width="176" height="1" fill="#000" opacity="0.93"/>
<rect x="132" y="515" width="176" height="1" fill="#000" opacity="0.93"/>
<rect x="132" y="517" width="176" height="4" fill="#000"/>
<rect x="132" y="522" width="176" height="1" fill="#fff"/>
<rect x="132" y="526" width="176" height="3" fill="#000"/>
<rect x="132" y="529" width="176" height="1" fill="#fff"/>
<rect x="132" y="530" width="176" height="1" fill="#000"/>
<rect x="132" y="533" width="176" height="1" fill="#000"/>
<rect x="132" y="535" width="176" height="2" fill="#000"/>
<rect x="132" y="538" width="176" height="1" fill="#000" opacity="0.93"/>
<rect x="132" y="540" width="176" height="1" fill="#000" opacity="0.93"/>
<rect x="132" y="542" width="176" height="2" fill="#000"/>
<rect x="132" y="544" width="176" height="1" fill="#fff"/>
<rect x="132" y="548" width="176" height="1" fill="#000" opacity="0.93"/>
<rect x="132" y="552" width="176" height="3" fill="#000"/>
<rect x="132" y="555" width="176" height="2" fill="#e8601a" filter="url(#f1O)"/>
<rect x="244" y="555" width="53" height="2" fill="#e8601a" filter="url(#f1F)"/>
<rect x="132" y="557" width="176" height="3" fill="#fff"/>
<rect x="132" y="560" width="176" height="2" fill="#e8601a" filter="url(#f1T)"/>
<rect x="132" y="562" width="176" height="2" fill="#e8601a" filter="url(#f1t)"/>
<rect x="132" y="564" width="176" height="2" fill="#000"/>
<rect x="132" y="567" width="176" height="2" fill="#000"/>
<rect x="132" y="572" width="176" height="2" fill="#000"/>
<rect x="132" y="575" width="176" height="2" fill="#000"/>
<rect x="132" y="581" width="176" height="3" fill="#000"/>
<rect x="132" y="586" width="176" height="2" fill="#000"/>
<rect x="132" y="590" width="176" height="1" fill="#000" opacity="0.93"/>
<rect x="132" y="595" width="176" height="1" fill="#000"/>
<rect x="132" y="598" width="176" height="1" fill="#ddd" filter="url(#fS2)"/>
<rect x="132" y="600" width="176" height="1" fill="#000"/>
<rect x="132" y="601" width="176" height="4" fill="#e8601a" filter="url(#f1O)"/>
<rect x="244" y="601" width="53" height="4" fill="#e8601a" filter="url(#f1F)"/>
<rect x="132" y="605" width="176" height="2" fill="#e8601a" filter="url(#f1O2)"/>
<rect x="244" y="605" width="53" height="2" fill="#e8601a" filter="url(#f1F)"/>
<rect x="132" y="607" width="176" height="1" fill="#fff"/>
<rect x="132" y="608" width="176" height="2" fill="#e8601a" filter="url(#f1t)"/>
<rect x="132" y="610" width="176" height="2" fill="#fff"/>
<rect x="132" y="616" width="176" height="2" fill="#fff"/>
<rect x="132" y="619" width="176" height="1" fill="#fff"/>
<rect x="132" y="622" width="176" height="1" fill="#fff"/>
<rect x="132" y="624" width="176" height="1" fill="#000" opacity="0.93"/>
<rect x="132" y="625" width="176" height="1" fill="#fff"/>
<rect x="132" y="626" width="176" height="1" fill="#000"/>
<rect x="132" y="627" width="176" height="1" fill="#fff"/>
<rect x="132" y="634" width="176" height="1" fill="#000" opacity="0.93"/>
<rect x="132" y="639" width="176" height="1" fill="#fff"/>
<rect x="132" y="641" width="176" height="1" fill="#000" opacity="0.93"/>
<rect x="132" y="643" width="176" height="1" fill="#000"/>
<rect x="132" y="650" width="176" height="1" fill="#000"/>
<rect x="132" y="656" width="176" height="1" fill="#000" opacity="0.93"/>
<rect x="132" y="663" width="176" height="1" fill="#000" opacity="0.93"/>
<rect x="132" y="664" width="176" height="1" fill="#fff"/>
<rect x="132" y="669" width="176" height="1" fill="#000" opacity="0.93"/>
<rect x="132" y="672" width="176" height="1" fill="#000" opacity="0.93"/>
<rect x="132" y="673" width="176" height="1" fill="#fff"/>
<rect x="132" y="678" width="176" height="2" fill="#e8601a" filter="url(#f1D)"/>
<rect x="244" y="678" width="53" height="2" fill="#707a6e" filter="url(#fu)"/>
<rect x="132" y="680" width="176" height="1" fill="#fff"/>
<rect x="132" y="681" width="176" height="4" fill="#e8601a" filter="url(#f1D)"/>
<rect x="244" y="681" width="28" height="4" fill="#e8601a" filter="url(#f1T)"/>
<path d="M272.5 681v4M274.5 681v4M276.5 681v4M278.5 681v4M280.5 681v4M282.5 681v4M284.5 681v4M286.5 681v4M288.5 681v4M290.5 681v4M292.5 681v4M294.5 681v4M296.5 681v4" stroke="#fff" stroke-width="1" fill="none"/>
<rect x="132" y="685" width="176" height="2" fill="#fff"/>
<rect x="132" y="687" width="176" height="2" fill="#e8601a" filter="url(#f1t)"/>
<rect x="132" y="689" width="176" height="1" fill="#fff"/>
<rect x="132" y="690" width="176" height="14" fill="#e8601a" filter="url(#f1t)"/>
<rect x="132" y="704" width="176" height="1" fill="#000"/>
<rect x="132" y="717" width="176" height="1" fill="#fff"/>
<rect x="131.5" y="80.5" width="177" height="640" fill="none" stroke="#000" stroke-width="1"/>
<path d="M173.5 81v6M173.5 720v-6M214.5 81v6M214.5 720v-6M256.5 81v6M256.5 720v-6M297.5 81v6M297.5 720v-6M132 187.5h6M308 187.5h-6M132 320.5h6M308 320.5h-6M132 453.5h6M308 453.5h-6M132 587.5h6M308 587.5h-6" stroke="#000" stroke-width="1" fill="none" opacity="0.8"/>
<rect x="345" y="81" width="175" height="639" fill="#707a6e" filter="url(#fu)"/>
<rect x="345" y="81" width="175" height="12" fill="#fff"/>
<rect x="345" y="94" width="175" height="1" fill="#000"/>
<rect x="345" y="95" width="175" height="5" fill="#fff"/>
<rect x="345" y="100" width="175" height="5" fill="#30c0e0" filter="url(#f2T)"/>
<rect x="345" y="105" width="175" height="1" fill="#000" opacity="0.93"/>
<rect x="345" y="106" width="175" height="4" fill="#30c0e0" filter="url(#f2T)"/>
<rect x="345" y="110" width="175" height="2" fill="#000"/>
<rect x="345" y="112" width="175" height="2" fill="#fff"/>
<rect x="345" y="114" width="175" height="1" fill="#000"/>
<rect x="345" y="115" width="175" height="2" fill="#fff"/>
<rect x="345" y="117" width="175" height="1" fill="#30c0e0" filter="url(#f2L)"/>
<rect x="345" y="118" width="175" height="1" fill="#fff"/>
<rect x="345" y="119" width="175" height="4" fill="#30c0e0" filter="url(#f2T)"/>
<rect x="345" y="123" width="175" height="1" fill="#fff"/>
<rect x="345" y="124" width="175" height="3" fill="#30c0e0" filter="url(#f2T)"/>
<rect x="345" y="127" width="175" height="2" fill="#fff"/>
<rect x="345" y="129" width="175" height="1" fill="#ddd" filter="url(#fS)"/>
<rect x="345" y="130" width="175" height="2" fill="#fff"/>
<rect x="345" y="132" width="175" height="1" fill="#000"/>
<rect x="345" y="134" width="175" height="2" fill="#000"/>
<rect x="345" y="136" width="175" height="103" fill="#fff"/>
<rect x="345" y="239" width="175" height="2" fill="#000"/>
<rect x="345" y="241" width="175" height="6" fill="#fff"/>
<rect x="345" y="247" width="175" height="1" fill="#000"/>
<rect x="345" y="248" width="175" height="112" fill="#fff"/>
<rect x="345" y="362" width="175" height="2" fill="#fff"/>
<rect x="345" y="368" width="175" height="2" fill="#fff"/>
<rect x="345" y="371" width="175" height="1" fill="#fff"/>
<rect x="345" y="379" width="175" height="1" fill="#fff"/>
<rect x="345" y="382" width="175" height="5" fill="#fff"/>
<rect x="345" y="389" width="175" height="1" fill="#000" opacity="0.93"/>
<rect x="345" y="393" width="175" height="1" fill="#000"/>
<rect x="345" y="396" width="175" height="1" fill="#000"/>
<rect x="345" y="397" width="175" height="1" fill="#fff"/>
<rect x="345" y="398" width="175" height="1" fill="#000" opacity="0.6"/>
<rect x="345" y="416" width="175" height="1" fill="#000"/>
<rect x="345" y="419" width="175" height="1" fill="#000" opacity="0.93"/>
<rect x="345" y="424" width="175" height="1" fill="#000" opacity="0.93"/>
<rect x="345" y="427" width="175" height="2" fill="#000"/>
<rect x="345" y="429" width="175" height="6" fill="#30c0e0" filter="url(#f2O)"/>
<rect x="345" y="429" width="69" height="6" fill="#30c0e0" filter="url(#f2Od)"/>
<rect x="414" y="429" width="43" height="6" fill="#30c0e0" filter="url(#f2Ob)"/>
<rect x="457" y="429" width="63" height="6" fill="#30c0e0" filter="url(#f2Oc)"/>
<rect x="457" y="429" width="53" height="6" fill="#30c0e0" filter="url(#f2F)"/>
<rect x="345" y="435" width="175" height="1" fill="#fff"/>
<rect x="345" y="441" width="175" height="1" fill="#000"/>
<rect x="345" y="443" width="175" height="1" fill="#000"/>
<rect x="345" y="445" width="175" height="1" fill="#000" opacity="0.93"/>
<rect x="345" y="448" width="175" height="1" fill="#000"/>
<rect x="345" y="450" width="175" height="1" fill="#000"/>
<rect x="345" y="452" width="175" height="1" fill="#000"/>
<rect x="345" y="454" width="175" height="1" fill="#000"/>
<rect x="345" y="459" width="175" height="1" fill="#000"/>
<rect x="345" y="462" width="175" height="1" fill="#fff"/>
<rect x="345" y="466" width="175" height="1" fill="#000"/>
<rect x="345" y="468" width="175" height="2" fill="#000"/>
<rect x="345" y="472" width="175" height="2" fill="#000"/>
<rect x="345" y="475" width="175" height="1" fill="#000" opacity="0.93"/>
<rect x="345" y="477" width="175" height="1" fill="#000" opacity="0.93"/>
<rect x="345" y="481" width="175" height="3" fill="#000"/>
<rect x="345" y="485" width="175" height="2" fill="#000"/>
<rect x="345" y="489" width="175" height="1" fill="#000" opacity="0.93"/>
<rect x="345" y="491" width="175" height="1" fill="#000" opacity="0.93"/>
<rect x="345" y="492" width="175" height="1" fill="#fff"/>
<rect x="345" y="493" width="175" height="2" fill="#000"/>
<rect x="345" y="500" width="175" height="1" fill="#000"/>
<rect x="345" y="502" width="175" height="2" fill="#000"/>
<rect x="345" y="507" width="175" height="1" fill="#000" opacity="0.93"/>
<rect x="345" y="515" width="175" height="1" fill="#000" opacity="0.93"/>
<rect x="345" y="517" width="175" height="4" fill="#000"/>
<rect x="345" y="522" width="175" height="1" fill="#fff"/>
<rect x="345" y="526" width="175" height="3" fill="#000"/>
<rect x="345" y="529" width="175" height="1" fill="#fff"/>
<rect x="345" y="530" width="175" height="1" fill="#000"/>
<rect x="345" y="533" width="175" height="1" fill="#000"/>
<rect x="345" y="535" width="175" height="2" fill="#000"/>
<rect x="345" y="538" width="175" height="1" fill="#000" opacity="0.93"/>
<rect x="345" y="540" width="175" height="1" fill="#000" opacity="0.93"/>
<rect x="345" y="542" width="175" height="2" fill="#000"/>
<rect x="345" y="544" width="175" height="1" fill="#fff"/>
<rect x="345" y="548" width="175" height="1" fill="#000" opacity="0.93"/>
<rect x="345" y="552" width="175" height="3" fill="#000"/>
<rect x="345" y="555" width="175" height="2" fill="#30c0e0" filter="url(#f2C)"/>
<rect x="457" y="555" width="53" height="2" fill="#30c0e0" filter="url(#f2F)"/>
<rect x="345" y="557" width="175" height="3" fill="#fff"/>
<rect x="345" y="560" width="175" height="2" fill="#30c0e0" filter="url(#f2T)"/>
<rect x="345" y="562" width="175" height="2" fill="#30c0e0" filter="url(#f2t)"/>
<rect x="345" y="564" width="175" height="2" fill="#000"/>
<rect x="345" y="567" width="175" height="2" fill="#000"/>
<rect x="345" y="572" width="175" height="2" fill="#000"/>
<rect x="345" y="575" width="175" height="2" fill="#000"/>
<rect x="345" y="581" width="175" height="3" fill="#000"/>
<rect x="345" y="586" width="175" height="2" fill="#000"/>
<rect x="345" y="590" width="175" height="1" fill="#000" opacity="0.93"/>
<rect x="345" y="595" width="175" height="1" fill="#000"/>
<rect x="345" y="598" width="175" height="1" fill="#ddd" filter="url(#fS2)"/>
<rect x="345" y="600" width="175" height="1" fill="#000"/>
<rect x="345" y="601" width="175" height="4" fill="#30c0e0" filter="url(#f2O)"/>
<rect x="345" y="601" width="54" height="4" fill="#30c0e0" filter="url(#f2Oa)"/>
<rect x="399" y="601" width="30" height="4" fill="#30c0e0" filter="url(#f2Ob)"/>
<rect x="429" y="601" width="91" height="4" fill="#30c0e0" filter="url(#f2Oc)"/>
<rect x="457" y="601" width="53" height="4" fill="#30c0e0" filter="url(#f2F)"/>
<rect x="345" y="605" width="175" height="2" fill="#30c0e0" filter="url(#f2O2)"/>
<rect x="345" y="605" width="54" height="2" fill="#30c0e0" filter="url(#f2Oa)"/>
<rect x="399" y="605" width="30" height="2" fill="#30c0e0" filter="url(#f2Ob)"/>
<rect x="429" y="605" width="91" height="2" fill="#30c0e0" filter="url(#f2Oc)"/>
<rect x="457" y="605" width="53" height="2" fill="#30c0e0" filter="url(#f2F)"/>
<rect x="345" y="607" width="175" height="1" fill="#fff"/>
<rect x="345" y="608" width="175" height="2" fill="#30c0e0" filter="url(#f2t)"/>
<rect x="345" y="610" width="175" height="2" fill="#fff"/>
<rect x="345" y="616" width="175" height="2" fill="#fff"/>
<rect x="345" y="619" width="175" height="1" fill="#fff"/>
<rect x="345" y="622" width="175" height="1" fill="#fff"/>
<rect x="345" y="624" width="175" height="1" fill="#000" opacity="0.93"/>
<rect x="345" y="625" width="175" height="1" fill="#fff"/>
<rect x="345" y="626" width="175" height="1" fill="#000"/>
<rect x="345" y="627" width="175" height="1" fill="#fff"/>
<rect x="345" y="634" width="175" height="1" fill="#000" opacity="0.93"/>
<rect x="345" y="639" width="175" height="1" fill="#fff"/>
<rect x="345" y="641" width="175" height="1" fill="#000" opacity="0.93"/>
<rect x="345" y="643" width="175" height="1" fill="#000"/>
<rect x="345" y="650" width="175" height="1" fill="#000"/>
<rect x="345" y="656" width="175" height="1" fill="#000" opacity="0.93"/>
<rect x="345" y="663" width="175" height="1" fill="#000" opacity="0.93"/>
<rect x="345" y="664" width="175" height="1" fill="#fff"/>
<rect x="345" y="669" width="175" height="1" fill="#000" opacity="0.93"/>
<rect x="345" y="672" width="175" height="1" fill="#000" opacity="0.93"/>
<rect x="345" y="673" width="175" height="1" fill="#fff"/>
<rect x="345" y="678" width="175" height="2" fill="#30c0e0" filter="url(#f2D)"/>
<rect x="457" y="678" width="53" height="2" fill="#ddd" filter="url(#fS)"/>
<rect x="345" y="680" width="175" height="1" fill="#fff"/>
<rect x="345" y="681" width="175" height="4" fill="#30c0e0" filter="url(#f2D)"/>
<path d="M456.5 681v4M458.5 681v4M460.5 681v4M462.5 681v4M464.5 681v4M466.5 681v4M468.5 681v4" stroke="#0018c8" stroke-width="1" fill="none"/>
<path d="M470.5 681v4M472.5 681v4M474.5 681v4M476.5 681v4M478.5 681v4M480.5 681v4M482.5 681v4" stroke="#ff5a00" stroke-width="1" fill="none"/>
<path d="M484.5 681v4M486.5 681v4M488.5 681v4M490.5 681v4M492.5 681v4M494.5 681v4M496.5 681v4" stroke="#0010a0" stroke-width="1" fill="none"/>
<path d="M497.5 681v4M499.5 681v4M501.5 681v4M503.5 681v4M505.5 681v4M507.5 681v4M509.5 681v4" stroke="#ff7000" stroke-width="1" fill="none"/>
<rect x="345" y="685" width="175" height="2" fill="#fff"/>
<rect x="345" y="687" width="175" height="2" fill="#30c0e0" filter="url(#f2t)"/>
<rect x="345" y="689" width="175" height="1" fill="#fff"/>
<rect x="345" y="690" width="175" height="14" fill="#30c0e0" filter="url(#f2t)"/>
<rect x="345" y="704" width="175" height="1" fill="#000"/>
<rect x="345" y="717" width="175" height="1" fill="#fff"/>
<rect x="344.5" y="80.5" width="176" height="640" fill="none" stroke="#000" stroke-width="1"/>
<path d="M385.5 81v6M385.5 720v-6M426.5 81v6M426.5 720v-6M468.5 81v6M468.5 720v-6M509.5 81v6M509.5 720v-6M345 187.5h6M520 187.5h-6M345 320.5h6M520 320.5h-6M345 453.5h6M520 453.5h-6M345 587.5h6M520 587.5h-6" stroke="#000" stroke-width="1" fill="none" opacity="0.8"/>
<rect x="557" y="81" width="176" height="639" fill="#707a6e" filter="url(#fu)"/>
<rect x="557" y="81" width="176" height="12" fill="#fff"/>
<rect x="557" y="94" width="176" height="1" fill="#000"/>
<rect x="557" y="95" width="176" height="5" fill="#fff"/>
<rect x="557" y="105" width="176" height="1" fill="#000" opacity="0.93"/>
<rect x="557" y="110" width="176" height="2" fill="#000"/>
<rect x="557" y="112" width="176" height="2" fill="#fff"/>
<rect x="557" y="114" width="176" height="1" fill="#000"/>
<rect x="557" y="115" width="176" height="2" fill="#fff"/>
<rect x="557" y="117" width="176" height="1" fill="#ddd" filter="url(#fS)"/>
<rect x="557" y="118" width="176" height="1" fill="#fff"/>
<rect x="557" y="123" width="176" height="1" fill="#fff"/>
<rect x="557" y="127" width="176" height="2" fill="#fff"/>
<rect x="557" y="129" width="176" height="1" fill="#ddd" filter="url(#fS)"/>
<rect x="557" y="130" width="176" height="2" fill="#fff"/>
<rect x="557" y="132" width="176" height="1" fill="#000"/>
<rect x="557" y="134" width="176" height="2" fill="#000"/>
<rect x="557" y="136" width="176" height="103" fill="#fff"/>
<rect x="557" y="239" width="176" height="2" fill="#000"/>
<rect x="557" y="241" width="176" height="6" fill="#fff"/>
<rect x="557" y="247" width="176" height="1" fill="#000"/>
<rect x="557" y="248" width="176" height="112" fill="#fff"/>
<rect x="557" y="362" width="176" height="2" fill="#fff"/>
<rect x="557" y="368" width="176" height="2" fill="#fff"/>
<rect x="557" y="371" width="176" height="1" fill="#fff"/>
<rect x="557" y="379" width="176" height="1" fill="#fff"/>
<rect x="557" y="382" width="176" height="5" fill="#fff"/>
<rect x="557" y="389" width="176" height="1" fill="#000" opacity="0.93"/>
<rect x="557" y="393" width="176" height="1" fill="#000"/>
<rect x="557" y="396" width="176" height="1" fill="#000"/>
<rect x="557" y="397" width="176" height="1" fill="#fff"/>
<rect x="557" y="398" width="176" height="1" fill="#000" opacity="0.6"/>
<rect x="557" y="416" width="176" height="1" fill="#000"/>
<rect x="557" y="419" width="176" height="1" fill="#000" opacity="0.93"/>
<rect x="557" y="424" width="176" height="1" fill="#000" opacity="0.93"/>
<rect x="557" y="427" width="176" height="2" fill="#000"/>
<rect x="557" y="435" width="176" height="1" fill="#fff"/>
<rect x="557" y="441" width="176" height="1" fill="#000"/>
<rect x="557" y="443" width="176" height="1" fill="#000"/>
<rect x="557" y="445" width="176" height="1" fill="#000" opacity="0.93"/>
<rect x="557" y="448" width="176" height="1" fill="#000"/>
<rect x="557" y="450" width="176" height="1" fill="#000"/>
<rect x="557" y="452" width="176" height="1" fill="#000"/>
<rect x="557" y="454" width="176" height="1" fill="#000"/>
<rect x="557" y="459" width="176" height="1" fill="#000"/>
<rect x="557" y="462" width="176" height="1" fill="#fff"/>
<rect x="557" y="466" width="176" height="1" fill="#000"/>
<rect x="557" y="468" width="176" height="2" fill="#000"/>
<rect x="557" y="472" width="176" height="2" fill="#000"/>
<rect x="557" y="475" width="176" height="1" fill="#000" opacity="0.93"/>
<rect x="557" y="477" width="176" height="1" fill="#000" opacity="0.93"/>
<rect x="557" y="481" width="176" height="3" fill="#000"/>
<rect x="557" y="485" width="176" height="2" fill="#000"/>
<rect x="557" y="489" width="176" height="1" fill="#000" opacity="0.93"/>
<rect x="557" y="491" width="176" height="1" fill="#000" opacity="0.93"/>
<rect x="557" y="492" width="176" height="1" fill="#fff"/>
<rect x="557" y="493" width="176" height="2" fill="#000"/>
<rect x="557" y="500" width="176" height="1" fill="#000"/>
<rect x="557" y="502" width="176" height="2" fill="#000"/>
<rect x="557" y="507" width="176" height="1" fill="#000" opacity="0.93"/>
<rect x="557" y="515" width="176" height="1" fill="#000" opacity="0.93"/>
<rect x="557" y="517" width="176" height="4" fill="#000"/>
<rect x="557" y="522" width="176" height="1" fill="#fff"/>
<rect x="557" y="526" width="176" height="3" fill="#000"/>
<rect x="557" y="529" width="176" height="1" fill="#fff"/>
<rect x="557" y="530" width="176" height="1" fill="#000"/>
<rect x="557" y="533" width="176" height="1" fill="#000"/>
<rect x="557" y="535" width="176" height="2" fill="#000"/>
<rect x="557" y="538" width="176" height="1" fill="#000" opacity="0.93"/>
<rect x="557" y="540" width="176" height="1" fill="#000" opacity="0.93"/>
<rect x="557" y="542" width="176" height="2" fill="#000"/>
<rect x="557" y="544" width="176" height="1" fill="#fff"/>
<rect x="557" y="548" width="176" height="1" fill="#000" opacity="0.93"/>
<rect x="557" y="552" width="176" height="3" fill="#000"/>
<rect x="557" y="557" width="176" height="3" fill="#fff"/>
<rect x="557" y="564" width="176" height="2" fill="#000"/>
<rect x="557" y="567" width="176" height="2" fill="#000"/>
<rect x="557" y="572" width="176" height="2" fill="#000"/>
<rect x="557" y="575" width="176" height="2" fill="#000"/>
<rect x="557" y="581" width="176" height="3" fill="#000"/>
<rect x="557" y="586" width="176" height="2" fill="#000"/>
<rect x="557" y="590" width="176" height="1" fill="#000" opacity="0.93"/>
<rect x="557" y="595" width="176" height="1" fill="#000"/>
<rect x="557" y="598" width="176" height="1" fill="#ddd" filter="url(#fS2)"/>
<rect x="557" y="600" width="176" height="1" fill="#000"/>
<rect x="557" y="607" width="176" height="1" fill="#fff"/>
<rect x="557" y="610" width="176" height="2" fill="#fff"/>
<rect x="557" y="616" width="176" height="2" fill="#fff"/>
<rect x="557" y="619" width="176" height="1" fill="#fff"/>
<rect x="557" y="622" width="176" height="1" fill="#fff"/>
<rect x="557" y="624" width="176" height="1" fill="#000" opacity="0.93"/>
<rect x="557" y="625" width="176" height="1" fill="#fff"/>
<rect x="557" y="626" width="176" height="1" fill="#000"/>
<rect x="557" y="627" width="176" height="1" fill="#fff"/>
<rect x="557" y="634" width="176" height="1" fill="#000" opacity="0.93"/>
<rect x="557" y="639" width="176" height="1" fill="#fff"/>
<rect x="557" y="641" width="176" height="1" fill="#000" opacity="0.93"/>
<rect x="557" y="643" width="176" height="1" fill="#000"/>
<rect x="557" y="650" width="176" height="1" fill="#000"/>
<rect x="557" y="656" width="176" height="1" fill="#000" opacity="0.93"/>
<rect x="557" y="663" width="176" height="1" fill="#000" opacity="0.93"/>
<rect x="557" y="664" width="176" height="1" fill="#fff"/>
<rect x="557" y="669" width="176" height="1" fill="#000" opacity="0.93"/>
<rect x="557" y="672" width="176" height="1" fill="#000" opacity="0.93"/>
<rect x="557" y="673" width="176" height="1" fill="#fff"/>
<rect x="557" y="680" width="176" height="1" fill="#fff"/>
<rect x="557" y="685" width="176" height="2" fill="#fff"/>
<rect x="557" y="689" width="176" height="1" fill="#fff"/>
<rect x="557" y="704" width="176" height="1" fill="#000"/>
<rect x="557" y="717" width="176" height="1" fill="#fff"/>
<rect x="556.5" y="80.5" width="177" height="640" fill="none" stroke="#000" stroke-width="1"/>
<path d="M597.5 81v6M597.5 720v-6M639.5 81v6M639.5 720v-6M680.5 81v6M680.5 720v-6M722.5 81v6M722.5 720v-6M557 187.5h6M733 187.5h-6M557 320.5h6M733 320.5h-6M557 453.5h6M733 453.5h-6M557 587.5h6M733 587.5h-6" stroke="#000" stroke-width="1" fill="none" opacity="0.8"/>
<rect x="769" y="81" width="176" height="639" fill="#707a6e" filter="url(#fu)"/>
<rect x="769" y="81" width="176" height="12" fill="#fff"/>
<rect x="769" y="94" width="176" height="1" fill="#000"/>
<rect x="769" y="95" width="176" height="5" fill="#fff"/>
<rect x="769" y="105" width="176" height="1" fill="#000" opacity="0.93"/>
<rect x="769" y="110" width="176" height="2" fill="#000"/>
<rect x="769" y="112" width="176" height="2" fill="#fff"/>
<rect x="769" y="114" width="176" height="1" fill="#000"/>
<rect x="769" y="115" width="176" height="2" fill="#fff"/>
<rect x="769" y="117" width="176" height="1" fill="#ddd" filter="url(#fS)"/>
<rect x="769" y="118" width="176" height="1" fill="#fff"/>
<rect x="769" y="123" width="176" height="1" fill="#fff"/>
<rect x="769" y="127" width="176" height="2" fill="#fff"/>
<rect x="769" y="129" width="176" height="1" fill="#ddd" filter="url(#fS)"/>
<rect x="769" y="130" width="176" height="2" fill="#fff"/>
<rect x="769" y="132" width="176" height="1" fill="#000"/>
<rect x="769" y="134" width="176" height="2" fill="#000"/>
<rect x="769" y="136" width="176" height="103" fill="#fff"/>
<rect x="769" y="239" width="176" height="2" fill="#000"/>
<rect x="769" y="241" width="176" height="6" fill="#fff"/>
<rect x="769" y="247" width="176" height="1" fill="#000"/>
<rect x="769" y="248" width="176" height="112" fill="#fff"/>
<rect x="769" y="362" width="176" height="2" fill="#fff"/>
<rect x="769" y="368" width="176" height="2" fill="#fff"/>
<rect x="769" y="371" width="176" height="1" fill="#fff"/>
<rect x="769" y="379" width="176" height="1" fill="#fff"/>
<rect x="769" y="382" width="176" height="5" fill="#fff"/>
<rect x="769" y="389" width="176" height="1" fill="#000" opacity="0.93"/>
<rect x="769" y="393" width="176" height="1" fill="#000"/>
<rect x="769" y="396" width="176" height="1" fill="#000"/>
<rect x="769" y="397" width="176" height="1" fill="#fff"/>
<rect x="769" y="398" width="176" height="1" fill="#000" opacity="0.6"/>
<rect x="769" y="416" width="176" height="1" fill="#000"/>
<rect x="769" y="419" width="176" height="1" fill="#000" opacity="0.93"/>
<rect x="769" y="424" width="176" height="1" fill="#000" opacity="0.93"/>
<rect x="769" y="427" width="176" height="2" fill="#000"/>
<rect x="769" y="435" width="176" height="1" fill="#fff"/>
<rect x="769" y="441" width="176" height="1" fill="#000"/>
<rect x="769" y="443" width="176" height="1" fill="#000"/>
<rect x="769" y="445" width="176" height="1" fill="#000" opacity="0.93"/>
<rect x="769" y="448" width="176" height="1" fill="#000"/>
<rect x="769" y="450" width="176" height="1" fill="#000"/>
<rect x="769" y="452" width="176" height="1" fill="#000"/>
<rect x="769" y="454" width="176" height="1" fill="#000"/>
<rect x="769" y="459" width="176" height="1" fill="#000"/>
<rect x="769" y="462" width="176" height="1" fill="#fff"/>
<rect x="769" y="466" width="176" height="1" fill="#000"/>
<rect x="769" y="468" width="176" height="2" fill="#000"/>
<rect x="769" y="472" width="176" height="2" fill="#000"/>
<rect x="769" y="475" width="176" height="1" fill="#000" opacity="0.93"/>
<rect x="769" y="477" width="176" height="1" fill="#000" opacity="0.93"/>
<rect x="769" y="481" width="176" height="3" fill="#000"/>
<rect x="769" y="485" width="176" height="2" fill="#000"/>
<rect x="769" y="489" width="176" height="1" fill="#000" opacity="0.93"/>
<rect x="769" y="491" width="176" height="1" fill="#000" opacity="0.93"/>
<rect x="769" y="492" width="176" height="1" fill="#fff"/>
<rect x="769" y="493" width="176" height="2" fill="#000"/>
<rect x="769" y="500" width="176" height="1" fill="#000"/>
<rect x="769" y="502" width="176" height="2" fill="#000"/>
<rect x="769" y="507" width="176" height="1" fill="#000" opacity="0.93"/>
<rect x="769" y="515" width="176" height="1" fill="#000" opacity="0.93"/>
<rect x="769" y="517" width="176" height="4" fill="#000"/>
<rect x="769" y="522" width="176" height="1" fill="#fff"/>
<rect x="769" y="526" width="176" height="3" fill="#000"/>
<rect x="769" y="529" width="176" height="1" fill="#fff"/>
<rect x="769" y="530" width="176" height="1" fill="#000"/>
<rect x="769" y="533" width="176" height="1" fill="#000"/>
<rect x="769" y="535" width="176" height="2" fill="#000"/>
<rect x="769" y="538" width="176" height="1" fill="#000" opacity="0.93"/>
<rect x="769" y="540" width="176" height="1" fill="#000" opacity="0.93"/>
<rect x="769" y="542" width="176" height="2" fill="#000"/>
<rect x="769" y="544" width="176" height="1" fill="#fff"/>
<rect x="769" y="548" width="176" height="1" fill="#000" opacity="0.93"/>
<rect x="769" y="552" width="176" height="3" fill="#000"/>
<rect x="769" y="557" width="176" height="3" fill="#fff"/>
<rect x="769" y="564" width="176" height="2" fill="#000"/>
<rect x="769" y="567" width="176" height="2" fill="#000"/>
<rect x="769" y="572" width="176" height="2" fill="#000"/>
<rect x="769" y="575" width="176" height="2" fill="#000"/>
<rect x="769" y="581" width="176" height="3" fill="#000"/>
<rect x="769" y="586" width="176" height="2" fill="#000"/>
<rect x="769" y="590" width="176" height="1" fill="#000" opacity="0.93"/>
<rect x="769" y="595" width="176" height="1" fill="#000"/>
<rect x="769" y="598" width="176" height="1" fill="#ddd" filter="url(#fS2)"/>
<rect x="769" y="600" width="176" height="1" fill="#000"/>
<rect x="769" y="607" width="176" height="1" fill="#fff"/>
<rect x="769" y="610" width="176" height="2" fill="#fff"/>
<rect x="769" y="616" width="176" height="2" fill="#fff"/>
<rect x="769" y="619" width="176" height="1" fill="#fff"/>
<rect x="769" y="622" width="176" height="1" fill="#fff"/>
<rect x="769" y="624" width="176" height="1" fill="#000" opacity="0.93"/>
<rect x="769" y="625" width="176" height="1" fill="#fff"/>
<rect x="769" y="626" width="176" height="1" fill="#000"/>
<rect x="769" y="627" width="176" height="1" fill="#fff"/>
<rect x="769" y="634" width="176" height="1" fill="#000" opacity="0.93"/>
<rect x="769" y="639" width="176" height="1" fill="#fff"/>
<rect x="769" y="641" width="176" height="1" fill="#000" opacity="0.93"/>
<rect x="769" y="643" width="176" height="1" fill="#000"/>
<rect x="769" y="650" width="176" height="1" fill="#000"/>
<rect x="769" y="656" width="176" height="1" fill="#000" opacity="0.93"/>
<rect x="769" y="663" width="176" height="1" fill="#000" opacity="0.93"/>
<rect x="769" y="664" width="176" height="1" fill="#fff"/>
<rect x="769" y="669" width="176" height="1" fill="#000" opacity="0.93"/>
<rect x="769" y="672" width="176" height="1" fill="#000" opacity="0.93"/>
<rect x="769" y="673" width="176" height="1" fill="#fff"/>
<rect x="769" y="680" width="176" height="1" fill="#fff"/>
<rect x="769" y="685" width="176" height="2" fill="#fff"/>
<rect x="769" y="689" width="176" height="1" fill="#fff"/>
<rect x="769" y="704" width="176" height="1" fill="#000"/>
<rect x="769" y="717" width="176" height="1" fill="#fff"/>
<rect x="768.5" y="80.5" width="177" height="640" fill="none" stroke="#000" stroke-width="1"/>
<path d="M810.5 81v6M810.5 720v-6M851.5 81v6M851.5 720v-6M892.5 81v6M892.5 720v-6M934.5 81v6M934.5 720v-6M769 187.5h6M945 187.5h-6M769 320.5h6M945 320.5h-6M769 453.5h6M945 453.5h-6M769 587.5h6M945 587.5h-6" stroke="#000" stroke-width="1" fill="none" opacity="0.8"/>
<g shape-rendering="auto" text-rendering="geometricPrecision" opacity="0.99" stroke="#000" stroke-width="0.12">
<text x="589.4" y="26" font-size="13.2" text-anchor="middle" textLength="127.69" lengthAdjust="spacingAndGlyphs">2018-04-24 0.0-24.0</text>
<text x="220.0" y="72.9" font-size="17.4" text-anchor="middle" textLength="183.09" lengthAdjust="spacingAndGlyphs">XX, V4*V11=EA05*EA14</text>
<text x="131.45" y="736.1" font-size="13.2" text-anchor="middle" textLength="22.72" lengthAdjust="spacingAndGlyphs">320</text>
<text x="172.9" y="736.1" font-size="13.2" text-anchor="middle" textLength="22.72" lengthAdjust="spacingAndGlyphs">335</text>
<text x="214.35" y="736.1" font-size="13.2" text-anchor="middle" textLength="22.72" lengthAdjust="spacingAndGlyphs">350</text>
<text x="255.8" y="736.1" font-size="13.2" text-anchor="middle" textLength="22.72" lengthAdjust="spacingAndGlyphs">365</text>
<text x="297.25" y="736.1" font-size="13.2" text-anchor="middle" textLength="22.72" lengthAdjust="spacingAndGlyphs">380</text>
<text x="126.55" y="724.2" font-size="13.2" text-anchor="end" textLength="6.63" lengthAdjust="spacingAndGlyphs">0</text>
<text x="126.55" y="591.2" font-size="13.2" text-anchor="end" textLength="6.63" lengthAdjust="spacingAndGlyphs">5</text>
<text x="125.95" y="457.2" font-size="13.2" text-anchor="end" textLength="13.979999999999999" lengthAdjust="spacingAndGlyphs">10</text>
<text x="125.95" y="324.2" font-size="13.2" text-anchor="end" textLength="13.979999999999999" lengthAdjust="spacingAndGlyphs">15</text>
<text x="125.95" y="191.2" font-size="13.2" text-anchor="end" textLength="13.979999999999999" lengthAdjust="spacingAndGlyphs">20</text>
<text x="432.5" y="72.9" font-size="17.4" text-anchor="middle" textLength="180.87" lengthAdjust="spacingAndGlyphs">YY, V4*V11=EA05*EA14</text>
<text x="343.73" y="736.1" font-size="13.2" text-anchor="middle" textLength="22.72" lengthAdjust="spacingAndGlyphs">320</text>
<text x="385.18" y="736.1" font-size="13.2" text-anchor="middle" textLength="22.72" lengthAdjust="spacingAndGlyphs">335</text>
<text x="426.63" y="736.1" font-size="13.2" text-anchor="middle" textLength="22.72" lengthAdjust="spacingAndGlyphs">350</text>
<text x="468.08" y="736.1" font-size="13.2" text-anchor="middle" textLength="22.72" lengthAdjust="spacingAndGlyphs">365</text>
<text x="509.53" y="736.1" font-size="13.2" text-anchor="middle" textLength="22.72" lengthAdjust="spacingAndGlyphs">380</text>
<text x="338.83" y="724.2" font-size="13.2" text-anchor="end" textLength="6.63" lengthAdjust="spacingAndGlyphs">0</text>
<text x="338.83" y="591.2" font-size="13.2" text-anchor="end" textLength="6.63" lengthAdjust="spacingAndGlyphs">5</text>
<text x="338.22999999999996" y="457.2" font-size="13.2" text-anchor="end" textLength="13.979999999999999" lengthAdjust="spacingAndGlyphs">10</text>
<text x="338.22999999999996" y="324.2" font-size="13.2" text-anchor="end" textLength="13.979999999999999" lengthAdjust="spacingAndGlyphs">15</text>
<text x="338.22999999999996" y="191.2" font-size="13.2" text-anchor="end" textLength="13.979999999999999" lengthAdjust="spacingAndGlyphs">20</text>
<text x="645.0" y="72.9" font-size="17.4" text-anchor="middle" textLength="181.98" lengthAdjust="spacingAndGlyphs">XY, V4*V11=EA05*EA14</text>
<text x="556.02" y="736.1" font-size="13.2" text-anchor="middle" textLength="22.72" lengthAdjust="spacingAndGlyphs">320</text>
<text x="597.47" y="736.1" font-size="13.2" text-anchor="middle" textLength="22.72" lengthAdjust="spacingAndGlyphs">335</text>
<text x="638.92" y="736.1" font-size="13.2" text-anchor="middle" textLength="22.72" lengthAdjust="spacingAndGlyphs">350</text>
<text x="680.37" y="736.1" font-size="13.2" text-anchor="middle" textLength="22.72" lengthAdjust="spacingAndGlyphs">365</text>
<text x="721.82" y="736.1" font-size="13.2" text-anchor="middle" textLength="22.72" lengthAdjust="spacingAndGlyphs">380</text>
<text x="551.12" y="724.2" font-size="13.2" text-anchor="end" textLength="6.63" lengthAdjust="spacingAndGlyphs">0</text>
<text x="551.12" y="591.2" font-size="13.2" text-anchor="end" textLength="6.63" lengthAdjust="spacingAndGlyphs">5</text>
<text x="550.5200000000001" y="457.2" font-size="13.2" text-anchor="end" textLength="13.979999999999999" lengthAdjust="spacingAndGlyphs">10</text>
<text x="550.5200000000001" y="324.2" font-size="13.2" text-anchor="end" textLength="13.979999999999999" lengthAdjust="spacingAndGlyphs">15</text>
<text x="550.5200000000001" y="191.2" font-size="13.2" text-anchor="end" textLength="13.979999999999999" lengthAdjust="spacingAndGlyphs">20</text>
<text x="857.0" y="72.9" font-size="17.4" text-anchor="middle" textLength="181.98" lengthAdjust="spacingAndGlyphs">YX, V4*V11=EA05*EA14</text>
<text x="768.3" y="736.1" font-size="13.2" text-anchor="middle" textLength="22.72" lengthAdjust="spacingAndGlyphs">320</text>
<text x="809.75" y="736.1" font-size="13.2" text-anchor="middle" textLength="22.72" lengthAdjust="spacingAndGlyphs">335</text>
<text x="851.2" y="736.1" font-size="13.2" text-anchor="middle" textLength="22.72" lengthAdjust="spacingAndGlyphs">350</text>
<text x="892.65" y="736.1" font-size="13.2" text-anchor="middle" textLength="22.72" lengthAdjust="spacingAndGlyphs">365</text>
<text x="934.1" y="736.1" font-size="13.2" text-anchor="middle" textLength="22.72" lengthAdjust="spacingAndGlyphs">380</text>
<text x="763.4" y="724.2" font-size="13.2" text-anchor="end" textLength="6.63" lengthAdjust="spacingAndGlyphs">0</text>
<text x="763.4" y="591.2" font-size="13.2" text-anchor="end" textLength="6.63" lengthAdjust="spacingAndGlyphs">5</text>
<text x="762.8000000000001" y="457.2" font-size="13.2" text-anchor="end" textLength="13.979999999999999" lengthAdjust="spacingAndGlyphs">10</text>
<text x="762.8000000000001" y="324.2" font-size="13.2" text-anchor="end" textLength="13.979999999999999" lengthAdjust="spacingAndGlyphs">15</text>
<text x="762.8000000000001" y="191.2" font-size="13.2" text-anchor="end" textLength="13.979999999999999" lengthAdjust="spacingAndGlyphs">20</text>
<text x="483.4" y="754.6" font-size="13.2" text-anchor="middle" textLength="102.33" lengthAdjust="spacingAndGlyphs">frequency (MHz)</text>
<text x="101.3" y="400" font-size="13.2" text-anchor="middle" textLength="64.54" lengthAdjust="spacingAndGlyphs" transform="rotate(-90 101.3 400)">UT (hours)</text>
<text x="973.6" y="400.4" font-size="13.2" text-anchor="middle" textLength="77.86" lengthAdjust="spacingAndGlyphs" transform="rotate(-90 973.6 400.4)">phase (deg.)</text>
<text x="1012.8" y="203.2" font-size="11" text-anchor="end" textLength="18.91" lengthAdjust="spacingAndGlyphs">150</text>
<text x="1012.8" y="269.9" font-size="11" text-anchor="end" textLength="18.91" lengthAdjust="spacingAndGlyphs">100</text>
<text x="1012.8" y="336.5" font-size="11" text-anchor="end" textLength="12.29" lengthAdjust="spacingAndGlyphs">50</text>
<text x="1012.8" y="403.2" font-size="11" text-anchor="end" textLength="5.68" lengthAdjust="spacingAndGlyphs">0</text>
<text x="1012.8" y="469.9" font-size="11" text-anchor="end" textLength="21.01" lengthAdjust="spacingAndGlyphs">−50</text>
<text x="1012.8" y="536.5" font-size="11" text-anchor="end" textLength="27.62" lengthAdjust="spacingAndGlyphs">−100</text>
<text x="1012.8" y="603.2" font-size="11" text-anchor="end" textLength="27.62" lengthAdjust="spacingAndGlyphs">−150</text>
</g>
<rect x="1020" y="160" width="15" height="480" fill="url(#cb)"/>
<rect x="1019.5" y="160.5" width="15" height="480" fill="none" stroke="#000"/>
<path d="M1020 200.5h5M1034 200.5h-6M1020 267.5h5M1034 267.5h-6M1020 333.5h5M1034 333.5h-6M1020 400.5h5M1034 400.5h-6M1020 467.5h5M1034 467.5h-6M1020 533.5h5M1034 533.5h-6M1020 600.5h5M1034 600.5h-6M1022.5 161v6M1022.5 640v-6M1025.5 161v6M1025.5 640v-6M1028.5 161v6M1028.5 640v-6M1031.5 161v6M1031.5 640v-6" stroke="#000" stroke-width="1" fill="none" opacity="0.8"/>
<path d="M1018 646.5h1M1021 646.5h1M1024 646.5h1M1027 646.5h1M1030 646.5h1M1033 646.5h1" stroke="#888" stroke-width="1"/>
</svg>
</body></html>
